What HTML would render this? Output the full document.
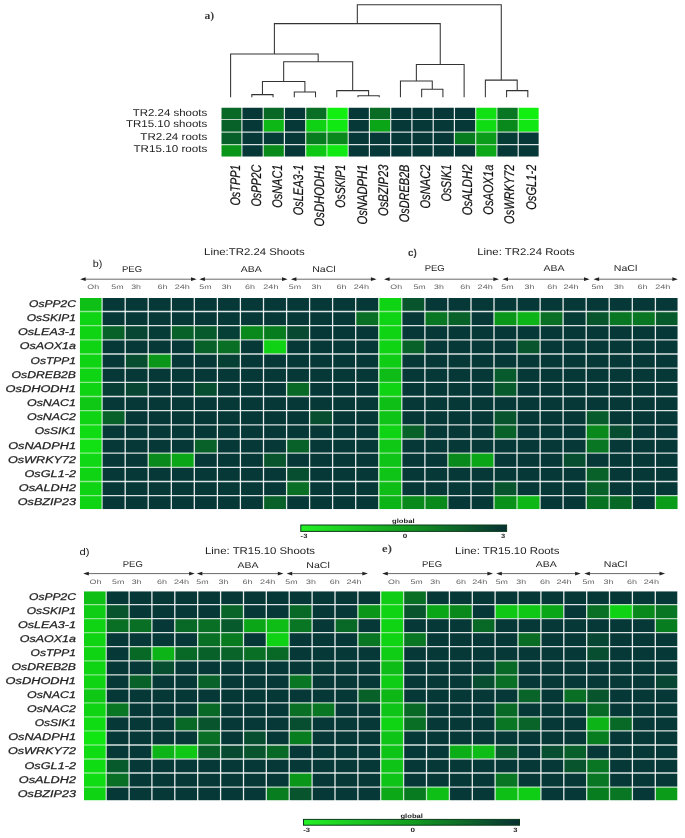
<!DOCTYPE html>
<html>
<head>
<meta charset="utf-8">
<title>Figure</title>
<style>
html,body{margin:0;padding:0;background:#fff;}
body{width:685px;height:838px;overflow:hidden;font-family:"Liberation Sans", sans-serif;}
svg{display:block;font-family:"Liberation Sans", sans-serif;filter:blur(0.45px);}
svg text{font-family:"Liberation Sans", sans-serif;}
</style>
</head>
<body>
<svg width="685" height="838" viewBox="0 0 685 838" shape-rendering="geometricPrecision" text-rendering="geometricPrecision">
<rect x="0" y="0" width="685" height="838" fill="#fff"/>
<rect x="220.50" y="106.70" width="21.65" height="13.00" fill="#086826"/>
<rect x="241.75" y="106.70" width="21.65" height="13.00" fill="#063837"/>
<rect x="262.99" y="106.70" width="21.65" height="13.00" fill="#086826"/>
<rect x="284.24" y="106.70" width="21.65" height="13.00" fill="#063837"/>
<rect x="305.49" y="106.70" width="21.65" height="13.00" fill="#086f24"/>
<rect x="326.74" y="106.70" width="21.65" height="13.00" fill="#12f012"/>
<rect x="347.98" y="106.70" width="21.65" height="13.00" fill="#063837"/>
<rect x="369.23" y="106.70" width="21.65" height="13.00" fill="#086c25"/>
<rect x="390.48" y="106.70" width="21.65" height="13.00" fill="#063837"/>
<rect x="411.72" y="106.70" width="21.65" height="13.00" fill="#063837"/>
<rect x="432.97" y="106.70" width="21.65" height="13.00" fill="#063837"/>
<rect x="454.22" y="106.70" width="21.65" height="13.00" fill="#063837"/>
<rect x="475.46" y="106.70" width="21.65" height="13.00" fill="#11e013"/>
<rect x="496.71" y="106.70" width="21.65" height="13.00" fill="#087622"/>
<rect x="517.96" y="106.70" width="21.65" height="13.00" fill="#12f012"/>
<rect x="220.50" y="119.30" width="21.65" height="13.00" fill="#076129"/>
<rect x="241.75" y="119.30" width="21.65" height="13.00" fill="#063837"/>
<rect x="262.99" y="119.30" width="21.65" height="13.00" fill="#0db816"/>
<rect x="284.24" y="119.30" width="21.65" height="13.00" fill="#063837"/>
<rect x="305.49" y="119.30" width="21.65" height="13.00" fill="#0fd214"/>
<rect x="326.74" y="119.30" width="21.65" height="13.00" fill="#11ea12"/>
<rect x="347.98" y="119.30" width="21.65" height="13.00" fill="#063837"/>
<rect x="369.23" y="119.30" width="21.65" height="13.00" fill="#0ba618"/>
<rect x="390.48" y="119.30" width="21.65" height="13.00" fill="#063837"/>
<rect x="411.72" y="119.30" width="21.65" height="13.00" fill="#063837"/>
<rect x="432.97" y="119.30" width="21.65" height="13.00" fill="#063837"/>
<rect x="454.22" y="119.30" width="21.65" height="13.00" fill="#063837"/>
<rect x="475.46" y="119.30" width="21.65" height="13.00" fill="#10dc14"/>
<rect x="496.71" y="119.30" width="21.65" height="13.00" fill="#09891b"/>
<rect x="517.96" y="119.30" width="21.65" height="13.00" fill="#11e813"/>
<rect x="220.50" y="131.90" width="21.65" height="13.00" fill="#075f2a"/>
<rect x="241.75" y="131.90" width="21.65" height="13.00" fill="#063837"/>
<rect x="262.99" y="131.90" width="21.65" height="13.00" fill="#063c36"/>
<rect x="284.24" y="131.90" width="21.65" height="13.00" fill="#063837"/>
<rect x="305.49" y="131.90" width="21.65" height="13.00" fill="#087d1f"/>
<rect x="326.74" y="131.90" width="21.65" height="13.00" fill="#09891b"/>
<rect x="347.98" y="131.90" width="21.65" height="13.00" fill="#063837"/>
<rect x="369.23" y="131.90" width="21.65" height="13.00" fill="#063837"/>
<rect x="390.48" y="131.90" width="21.65" height="13.00" fill="#063837"/>
<rect x="411.72" y="131.90" width="21.65" height="13.00" fill="#063837"/>
<rect x="432.97" y="131.90" width="21.65" height="13.00" fill="#063837"/>
<rect x="454.22" y="131.90" width="21.65" height="13.00" fill="#087d1f"/>
<rect x="475.46" y="131.90" width="21.65" height="13.00" fill="#0b9d19"/>
<rect x="496.71" y="131.90" width="21.65" height="13.00" fill="#063c36"/>
<rect x="517.96" y="131.90" width="21.65" height="13.00" fill="#063837"/>
<rect x="220.50" y="144.50" width="21.65" height="13.00" fill="#0a9719"/>
<rect x="241.75" y="144.50" width="21.65" height="13.00" fill="#063837"/>
<rect x="262.99" y="144.50" width="21.65" height="13.00" fill="#098b1a"/>
<rect x="284.24" y="144.50" width="21.65" height="13.00" fill="#063837"/>
<rect x="305.49" y="144.50" width="21.65" height="13.00" fill="#0ec815"/>
<rect x="326.74" y="144.50" width="21.65" height="13.00" fill="#11ea12"/>
<rect x="347.98" y="144.50" width="21.65" height="13.00" fill="#063837"/>
<rect x="369.23" y="144.50" width="21.65" height="13.00" fill="#063837"/>
<rect x="390.48" y="144.50" width="21.65" height="13.00" fill="#063837"/>
<rect x="411.72" y="144.50" width="21.65" height="13.00" fill="#063837"/>
<rect x="432.97" y="144.50" width="21.65" height="13.00" fill="#063837"/>
<rect x="454.22" y="144.50" width="21.65" height="13.00" fill="#063837"/>
<rect x="475.46" y="144.50" width="21.65" height="13.00" fill="#0ca818"/>
<rect x="496.71" y="144.50" width="21.65" height="13.00" fill="#063837"/>
<rect x="517.96" y="144.50" width="21.65" height="13.00" fill="#063837"/>
<path d="M220.7 106.9L241.9 106.9M241.9 106.9L263.2 106.9M263.2 106.9L284.4 106.9M284.4 106.9L305.7 106.9M305.7 106.9L326.9 106.9M326.9 106.9L348.2 106.9M348.2 106.9L369.4 106.9M369.4 106.9L390.7 106.9M390.7 106.9L411.9 106.9M411.9 106.9L433.2 106.9M433.2 106.9L454.4 106.9M454.4 106.9L475.7 106.9M475.7 106.9L496.9 106.9M496.9 106.9L518.2 106.9M518.2 106.9L539.4 106.9M220.7 157.3L241.9 157.3M241.9 157.3L263.2 157.3M263.2 157.3L284.4 157.3M284.4 157.3L305.7 157.3M305.7 157.3L326.9 157.3M326.9 157.3L348.2 157.3M348.2 157.3L369.4 157.3M369.4 157.3L390.7 157.3M390.7 157.3L411.9 157.3M411.9 157.3L433.2 157.3M433.2 157.3L454.4 157.3M454.4 157.3L475.7 157.3M475.7 157.3L496.9 157.3M496.9 157.3L518.2 157.3M518.2 157.3L539.4 157.3M220.7 106.9L220.7 119.5M220.7 119.5L220.7 132.1M220.7 132.1L220.7 144.7M220.7 144.7L220.7 157.3M539.4 106.9L539.4 119.5M539.4 119.5L539.4 132.1M539.4 132.1L539.4 144.7M539.4 144.7L539.4 157.3" stroke="#fff" stroke-opacity="1.00" stroke-width="1.20" fill="none"/>
<path d="M220.7 119.5L241.9 119.5M263.2 132.1L284.4 132.1M369.4 132.1L390.7 132.1M220.7 144.7L241.9 144.7M326.9 106.9L326.9 119.5M496.9 106.9L496.9 119.5M496.9 119.5L496.9 132.1M518.2 106.9L518.2 119.5" stroke="#fff" stroke-opacity="0.70" stroke-width="1.20" fill="none"/>
<path d="M241.9 119.5L263.2 119.5M284.4 119.5L305.7 119.5M348.2 119.5L369.4 119.5M390.7 119.5L411.9 119.5M411.9 119.5L433.2 119.5M433.2 119.5L454.4 119.5M454.4 119.5L475.7 119.5M241.9 132.1L263.2 132.1M284.4 132.1L305.7 132.1M348.2 132.1L369.4 132.1M390.7 132.1L411.9 132.1M411.9 132.1L433.2 132.1M433.2 132.1L454.4 132.1M241.9 144.7L263.2 144.7M284.4 144.7L305.7 144.7M348.2 144.7L369.4 144.7M369.4 144.7L390.7 144.7M390.7 144.7L411.9 144.7M411.9 144.7L433.2 144.7M433.2 144.7L454.4 144.7M496.9 144.7L518.2 144.7M518.2 144.7L539.4 144.7M241.9 106.9L241.9 119.5M241.9 119.5L241.9 132.1M241.9 132.1L241.9 144.7M263.2 106.9L263.2 119.5M284.4 106.9L284.4 119.5M305.7 106.9L305.7 119.5M369.4 106.9L369.4 119.5M390.7 106.9L390.7 119.5" stroke="#fff" stroke-opacity="0.85" stroke-width="1.20" fill="none"/>
<path d="M263.2 119.5L284.4 119.5M369.4 119.5L390.7 119.5M496.9 119.5L518.2 119.5M518.2 132.1L539.4 132.1M326.9 119.5L326.9 132.1M326.9 144.7L326.9 157.3M518.2 119.5L518.2 132.1" stroke="#fff" stroke-opacity="0.65" stroke-width="1.20" fill="none"/>
<path d="M305.7 119.5L326.9 119.5M305.7 132.1L326.9 132.1M305.7 144.7L326.9 144.7M475.7 144.7L496.9 144.7" stroke="#fff" stroke-opacity="0.60" stroke-width="1.20" fill="none"/>
<path d="M326.9 119.5L348.2 119.5M518.2 119.5L539.4 119.5" stroke="#fff" stroke-opacity="0.45" stroke-width="1.20" fill="none"/>
<path d="M475.7 119.5L496.9 119.5" stroke="#fff" stroke-opacity="0.50" stroke-width="1.20" fill="none"/>
<path d="M220.7 132.1L241.9 132.1M454.4 132.1L475.7 132.1M496.9 132.1L518.2 132.1M263.2 144.7L284.4 144.7M454.4 144.7L475.7 144.7M305.7 119.5L305.7 132.1M326.9 132.1L326.9 144.7M348.2 106.9L348.2 119.5M348.2 119.5L348.2 132.1M348.2 144.7L348.2 157.3M475.7 106.9L475.7 119.5M475.7 119.5L475.7 132.1M475.7 132.1L475.7 144.7" stroke="#fff" stroke-opacity="0.75" stroke-width="1.20" fill="none"/>
<path d="M326.9 132.1L348.2 132.1M475.7 132.1L496.9 132.1M326.9 144.7L348.2 144.7" stroke="#fff" stroke-opacity="0.55" stroke-width="1.20" fill="none"/>
<path d="M241.9 144.7L241.9 157.3M263.2 119.5L263.2 132.1M263.2 144.7L263.2 157.3M284.4 119.5L284.4 132.1M284.4 144.7L284.4 157.3M305.7 132.1L305.7 144.7M305.7 144.7L305.7 157.3M348.2 132.1L348.2 144.7M369.4 119.5L369.4 132.1M390.7 119.5L390.7 132.1M454.4 132.1L454.4 144.7M475.7 144.7L475.7 157.3M496.9 132.1L496.9 144.7M496.9 144.7L496.9 157.3" stroke="#fff" stroke-opacity="0.80" stroke-width="1.20" fill="none"/>
<path d="M263.2 132.1L263.2 144.7M284.4 132.1L284.4 144.7M369.4 132.1L369.4 144.7M369.4 144.7L369.4 157.3M390.7 132.1L390.7 144.7M390.7 144.7L390.7 157.3M411.9 106.9L411.9 119.5M411.9 119.5L411.9 132.1M411.9 132.1L411.9 144.7M411.9 144.7L411.9 157.3M433.2 106.9L433.2 119.5M433.2 119.5L433.2 132.1M433.2 132.1L433.2 144.7M433.2 144.7L433.2 157.3M454.4 106.9L454.4 119.5M454.4 119.5L454.4 132.1M454.4 144.7L454.4 157.3M518.2 132.1L518.2 144.7M518.2 144.7L518.2 157.3" stroke="#fff" stroke-opacity="0.90" stroke-width="1.20" fill="none"/>
<rect x="220.40" y="106.60" width="319.31" height="51.00" fill="none" stroke="#fff" stroke-width="1.80"/>
<path d="M251.83 94.60L251.83 96.60M273.06 94.60L273.06 96.60M251.83 94.60L273.06 94.60M294.29 92.00L294.29 96.60M315.52 92.00L315.52 96.60M294.29 92.00L315.52 92.00M262.44 81.50L262.44 94.60M304.90 81.50L304.90 92.00M262.44 81.50L304.90 81.50M357.98 95.70L357.98 96.60M379.21 95.70L379.21 96.60M357.98 95.70L379.21 95.70M336.75 90.60L336.75 96.60M368.60 90.60L368.60 95.70M336.75 90.60L368.60 90.60M283.67 61.70L283.67 81.50M352.67 61.70L352.67 90.60M283.67 61.70L352.67 61.70M230.60 53.90L230.60 96.60M318.17 53.90L318.17 61.70M230.60 53.90L318.17 53.90M421.67 89.30L421.67 96.60M442.90 89.30L442.90 96.60M421.67 89.30L442.90 89.30M400.44 80.90L400.44 96.60M432.28 80.90L432.28 89.30M400.44 80.90L432.28 80.90M416.36 64.40L416.36 80.90M464.13 64.40L464.13 96.60M416.36 64.40L464.13 64.40M274.39 23.60L274.39 53.90M440.25 23.60L440.25 64.40M274.39 23.60L440.25 23.60M506.59 90.60L506.59 96.60M527.82 90.60L527.82 96.60M506.59 90.60L527.82 90.60M485.36 80.10L485.36 96.60M517.21 80.10L517.21 90.60M485.36 80.10L517.21 80.10M357.32 4.70L357.32 23.60M501.28 4.70L501.28 80.10M357.32 4.70L501.28 4.70" stroke="#333" stroke-width="1.05" fill="none" stroke-linecap="square"/>
<text x="204.40" y="19.00" font-size="10.80" text-anchor="start" fill="#3a3a3a" font-weight="bold" font-style="normal" textLength="9.70" lengthAdjust="spacingAndGlyphs" style="font-family:&quot;Liberation Serif&quot;,serif">a)</text>
<text x="207.30" y="115.60" font-size="10.00" text-anchor="end" fill="#222" font-weight="normal" font-style="normal" textLength="74.60" lengthAdjust="spacingAndGlyphs">TR2.24 shoots</text>
<text x="207.30" y="127.40" font-size="10.00" text-anchor="end" fill="#222" font-weight="normal" font-style="normal" textLength="81.40" lengthAdjust="spacingAndGlyphs">TR15.10 shoots</text>
<text x="207.30" y="139.80" font-size="10.00" text-anchor="end" fill="#222" font-weight="normal" font-style="normal" textLength="67.00" lengthAdjust="spacingAndGlyphs">TR2.24 roots</text>
<text x="207.30" y="151.80" font-size="10.00" text-anchor="end" fill="#222" font-weight="normal" font-style="normal" textLength="73.80" lengthAdjust="spacingAndGlyphs">TR15.10 roots</text>
<text transform="translate(239.80,164.60) rotate(-90)" x="0" y="0" font-size="14" text-anchor="end" fill="#111" stroke="#111" stroke-width="0.2" font-style="italic" textLength="41.00" lengthAdjust="spacingAndGlyphs">OsTPP1</text>
<text transform="translate(260.93,164.60) rotate(-90)" x="0" y="0" font-size="14" text-anchor="end" fill="#111" stroke="#111" stroke-width="0.2" font-style="italic" textLength="42.00" lengthAdjust="spacingAndGlyphs">OsPP2C</text>
<text transform="translate(282.06,164.60) rotate(-90)" x="0" y="0" font-size="14" text-anchor="end" fill="#111" stroke="#111" stroke-width="0.2" font-style="italic" textLength="43.20" lengthAdjust="spacingAndGlyphs">OsNAC1</text>
<text transform="translate(303.19,164.60) rotate(-90)" x="0" y="0" font-size="14" text-anchor="end" fill="#111" stroke="#111" stroke-width="0.2" font-style="italic" textLength="50.70" lengthAdjust="spacingAndGlyphs">OsLEA3-1</text>
<text transform="translate(324.32,164.60) rotate(-90)" x="0" y="0" font-size="14" text-anchor="end" fill="#111" stroke="#111" stroke-width="0.2" font-style="italic" textLength="61.80" lengthAdjust="spacingAndGlyphs">OsDHODH1</text>
<text transform="translate(345.45,164.60) rotate(-90)" x="0" y="0" font-size="14" text-anchor="end" fill="#111" stroke="#111" stroke-width="0.2" font-style="italic" textLength="43.20" lengthAdjust="spacingAndGlyphs">OsSKIP1</text>
<text transform="translate(366.58,164.60) rotate(-90)" x="0" y="0" font-size="14" text-anchor="end" fill="#111" stroke="#111" stroke-width="0.2" font-style="italic" textLength="60.00" lengthAdjust="spacingAndGlyphs">OsNADPH1</text>
<text transform="translate(387.71,164.60) rotate(-90)" x="0" y="0" font-size="14" text-anchor="end" fill="#111" stroke="#111" stroke-width="0.2" font-style="italic" textLength="51.40" lengthAdjust="spacingAndGlyphs">OsBZIP23</text>
<text transform="translate(408.84,164.60) rotate(-90)" x="0" y="0" font-size="14" text-anchor="end" fill="#111" stroke="#111" stroke-width="0.2" font-style="italic" textLength="57.60" lengthAdjust="spacingAndGlyphs">OsDREB2B</text>
<text transform="translate(429.97,164.60) rotate(-90)" x="0" y="0" font-size="14" text-anchor="end" fill="#111" stroke="#111" stroke-width="0.2" font-style="italic" textLength="44.00" lengthAdjust="spacingAndGlyphs">OsNAC2</text>
<text transform="translate(451.10,164.60) rotate(-90)" x="0" y="0" font-size="14" text-anchor="end" fill="#111" stroke="#111" stroke-width="0.2" font-style="italic" textLength="37.00" lengthAdjust="spacingAndGlyphs">OsSIK1</text>
<text transform="translate(472.23,164.60) rotate(-90)" x="0" y="0" font-size="14" text-anchor="end" fill="#111" stroke="#111" stroke-width="0.2" font-style="italic" textLength="50.70" lengthAdjust="spacingAndGlyphs">OsALDH2</text>
<text transform="translate(493.36,164.60) rotate(-90)" x="0" y="0" font-size="14" text-anchor="end" fill="#111" stroke="#111" stroke-width="0.2" font-style="italic" textLength="50.10" lengthAdjust="spacingAndGlyphs">OsAOX1a</text>
<text transform="translate(514.49,164.60) rotate(-90)" x="0" y="0" font-size="14" text-anchor="end" fill="#111" stroke="#111" stroke-width="0.2" font-style="italic" textLength="59.30" lengthAdjust="spacingAndGlyphs">OsWRKY72</text>
<text transform="translate(535.62,164.60) rotate(-90)" x="0" y="0" font-size="14" text-anchor="end" fill="#111" stroke="#111" stroke-width="0.2" font-style="italic" textLength="45.20" lengthAdjust="spacingAndGlyphs">OsGL1-2</text>
<rect x="78.90" y="297.10" width="23.45" height="14.57" fill="#0ec016"/>
<rect x="101.95" y="297.10" width="23.45" height="14.57" fill="#063837"/>
<rect x="125.00" y="297.10" width="23.45" height="14.57" fill="#063837"/>
<rect x="148.05" y="297.10" width="23.45" height="14.57" fill="#063837"/>
<rect x="171.10" y="297.10" width="23.45" height="14.57" fill="#063837"/>
<rect x="194.15" y="297.10" width="23.45" height="14.57" fill="#063837"/>
<rect x="217.20" y="297.10" width="23.45" height="14.57" fill="#063837"/>
<rect x="240.25" y="297.10" width="23.45" height="14.57" fill="#063837"/>
<rect x="263.30" y="297.10" width="23.45" height="14.57" fill="#063837"/>
<rect x="286.35" y="297.10" width="23.45" height="14.57" fill="#063837"/>
<rect x="309.40" y="297.10" width="23.45" height="14.57" fill="#063837"/>
<rect x="332.45" y="297.10" width="23.45" height="14.57" fill="#063837"/>
<rect x="355.50" y="297.10" width="23.45" height="14.57" fill="#063837"/>
<rect x="378.55" y="297.10" width="23.45" height="14.57" fill="#0fd414"/>
<rect x="401.60" y="297.10" width="23.45" height="14.57" fill="#07542d"/>
<rect x="424.65" y="297.10" width="23.45" height="14.57" fill="#063837"/>
<rect x="447.70" y="297.10" width="23.45" height="14.57" fill="#063837"/>
<rect x="470.75" y="297.10" width="23.45" height="14.57" fill="#063837"/>
<rect x="493.80" y="297.10" width="23.45" height="14.57" fill="#063837"/>
<rect x="516.85" y="297.10" width="23.45" height="14.57" fill="#063837"/>
<rect x="539.90" y="297.10" width="23.45" height="14.57" fill="#063837"/>
<rect x="562.95" y="297.10" width="23.45" height="14.57" fill="#063837"/>
<rect x="586.00" y="297.10" width="23.45" height="14.57" fill="#063837"/>
<rect x="609.05" y="297.10" width="23.45" height="14.57" fill="#063837"/>
<rect x="632.10" y="297.10" width="23.45" height="14.57" fill="#063837"/>
<rect x="655.15" y="297.10" width="23.45" height="14.57" fill="#063837"/>
<rect x="78.90" y="311.27" width="23.45" height="14.57" fill="#0fd414"/>
<rect x="101.95" y="311.27" width="23.45" height="14.57" fill="#063837"/>
<rect x="125.00" y="311.27" width="23.45" height="14.57" fill="#063837"/>
<rect x="148.05" y="311.27" width="23.45" height="14.57" fill="#063837"/>
<rect x="171.10" y="311.27" width="23.45" height="14.57" fill="#063837"/>
<rect x="194.15" y="311.27" width="23.45" height="14.57" fill="#063837"/>
<rect x="217.20" y="311.27" width="23.45" height="14.57" fill="#063837"/>
<rect x="240.25" y="311.27" width="23.45" height="14.57" fill="#063837"/>
<rect x="263.30" y="311.27" width="23.45" height="14.57" fill="#063837"/>
<rect x="286.35" y="311.27" width="23.45" height="14.57" fill="#063837"/>
<rect x="309.40" y="311.27" width="23.45" height="14.57" fill="#063837"/>
<rect x="332.45" y="311.27" width="23.45" height="14.57" fill="#063837"/>
<rect x="355.50" y="311.27" width="23.45" height="14.57" fill="#086f24"/>
<rect x="378.55" y="311.27" width="23.45" height="14.57" fill="#0fd414"/>
<rect x="401.60" y="311.27" width="23.45" height="14.57" fill="#063837"/>
<rect x="424.65" y="311.27" width="23.45" height="14.57" fill="#087622"/>
<rect x="447.70" y="311.27" width="23.45" height="14.57" fill="#076129"/>
<rect x="470.75" y="311.27" width="23.45" height="14.57" fill="#063837"/>
<rect x="493.80" y="311.27" width="23.45" height="14.57" fill="#0a9719"/>
<rect x="516.85" y="311.27" width="23.45" height="14.57" fill="#0db417"/>
<rect x="539.90" y="311.27" width="23.45" height="14.57" fill="#086f24"/>
<rect x="562.95" y="311.27" width="23.45" height="14.57" fill="#063c36"/>
<rect x="586.00" y="311.27" width="23.45" height="14.57" fill="#07542d"/>
<rect x="609.05" y="311.27" width="23.45" height="14.57" fill="#087622"/>
<rect x="632.10" y="311.27" width="23.45" height="14.57" fill="#087622"/>
<rect x="655.15" y="311.27" width="23.45" height="14.57" fill="#075a2b"/>
<rect x="78.90" y="325.44" width="23.45" height="14.57" fill="#0fd414"/>
<rect x="101.95" y="325.44" width="23.45" height="14.57" fill="#076129"/>
<rect x="125.00" y="325.44" width="23.45" height="14.57" fill="#064632"/>
<rect x="148.05" y="325.44" width="23.45" height="14.57" fill="#063c36"/>
<rect x="171.10" y="325.44" width="23.45" height="14.57" fill="#076129"/>
<rect x="194.15" y="325.44" width="23.45" height="14.57" fill="#075a2b"/>
<rect x="217.20" y="325.44" width="23.45" height="14.57" fill="#063f35"/>
<rect x="240.25" y="325.44" width="23.45" height="14.57" fill="#09891b"/>
<rect x="263.30" y="325.44" width="23.45" height="14.57" fill="#087d1f"/>
<rect x="286.35" y="325.44" width="23.45" height="14.57" fill="#074931"/>
<rect x="309.40" y="325.44" width="23.45" height="14.57" fill="#063837"/>
<rect x="332.45" y="325.44" width="23.45" height="14.57" fill="#063837"/>
<rect x="355.50" y="325.44" width="23.45" height="14.57" fill="#063837"/>
<rect x="378.55" y="325.44" width="23.45" height="14.57" fill="#0fd414"/>
<rect x="401.60" y="325.44" width="23.45" height="14.57" fill="#063837"/>
<rect x="424.65" y="325.44" width="23.45" height="14.57" fill="#063837"/>
<rect x="447.70" y="325.44" width="23.45" height="14.57" fill="#063837"/>
<rect x="470.75" y="325.44" width="23.45" height="14.57" fill="#063837"/>
<rect x="493.80" y="325.44" width="23.45" height="14.57" fill="#063837"/>
<rect x="516.85" y="325.44" width="23.45" height="14.57" fill="#063837"/>
<rect x="539.90" y="325.44" width="23.45" height="14.57" fill="#063837"/>
<rect x="562.95" y="325.44" width="23.45" height="14.57" fill="#063837"/>
<rect x="586.00" y="325.44" width="23.45" height="14.57" fill="#063837"/>
<rect x="609.05" y="325.44" width="23.45" height="14.57" fill="#063837"/>
<rect x="632.10" y="325.44" width="23.45" height="14.57" fill="#063837"/>
<rect x="655.15" y="325.44" width="23.45" height="14.57" fill="#063837"/>
<rect x="78.90" y="339.61" width="23.45" height="14.57" fill="#0fd414"/>
<rect x="101.95" y="339.61" width="23.45" height="14.57" fill="#063837"/>
<rect x="125.00" y="339.61" width="23.45" height="14.57" fill="#063837"/>
<rect x="148.05" y="339.61" width="23.45" height="14.57" fill="#063837"/>
<rect x="171.10" y="339.61" width="23.45" height="14.57" fill="#063837"/>
<rect x="194.15" y="339.61" width="23.45" height="14.57" fill="#076129"/>
<rect x="217.20" y="339.61" width="23.45" height="14.57" fill="#086f24"/>
<rect x="240.25" y="339.61" width="23.45" height="14.57" fill="#063837"/>
<rect x="263.30" y="339.61" width="23.45" height="14.57" fill="#0fd214"/>
<rect x="286.35" y="339.61" width="23.45" height="14.57" fill="#063837"/>
<rect x="309.40" y="339.61" width="23.45" height="14.57" fill="#063837"/>
<rect x="332.45" y="339.61" width="23.45" height="14.57" fill="#063837"/>
<rect x="355.50" y="339.61" width="23.45" height="14.57" fill="#063837"/>
<rect x="378.55" y="339.61" width="23.45" height="14.57" fill="#0fd414"/>
<rect x="401.60" y="339.61" width="23.45" height="14.57" fill="#076129"/>
<rect x="424.65" y="339.61" width="23.45" height="14.57" fill="#063837"/>
<rect x="447.70" y="339.61" width="23.45" height="14.57" fill="#063837"/>
<rect x="470.75" y="339.61" width="23.45" height="14.57" fill="#063837"/>
<rect x="493.80" y="339.61" width="23.45" height="14.57" fill="#063837"/>
<rect x="516.85" y="339.61" width="23.45" height="14.57" fill="#07542d"/>
<rect x="539.90" y="339.61" width="23.45" height="14.57" fill="#063837"/>
<rect x="562.95" y="339.61" width="23.45" height="14.57" fill="#063837"/>
<rect x="586.00" y="339.61" width="23.45" height="14.57" fill="#063837"/>
<rect x="609.05" y="339.61" width="23.45" height="14.57" fill="#063837"/>
<rect x="632.10" y="339.61" width="23.45" height="14.57" fill="#063837"/>
<rect x="655.15" y="339.61" width="23.45" height="14.57" fill="#063837"/>
<rect x="78.90" y="353.78" width="23.45" height="14.57" fill="#0fd414"/>
<rect x="101.95" y="353.78" width="23.45" height="14.57" fill="#063837"/>
<rect x="125.00" y="353.78" width="23.45" height="14.57" fill="#074d30"/>
<rect x="148.05" y="353.78" width="23.45" height="14.57" fill="#0a9719"/>
<rect x="171.10" y="353.78" width="23.45" height="14.57" fill="#063837"/>
<rect x="194.15" y="353.78" width="23.45" height="14.57" fill="#063837"/>
<rect x="217.20" y="353.78" width="23.45" height="14.57" fill="#064034"/>
<rect x="240.25" y="353.78" width="23.45" height="14.57" fill="#063837"/>
<rect x="263.30" y="353.78" width="23.45" height="14.57" fill="#063837"/>
<rect x="286.35" y="353.78" width="23.45" height="14.57" fill="#063837"/>
<rect x="309.40" y="353.78" width="23.45" height="14.57" fill="#063837"/>
<rect x="332.45" y="353.78" width="23.45" height="14.57" fill="#063837"/>
<rect x="355.50" y="353.78" width="23.45" height="14.57" fill="#063837"/>
<rect x="378.55" y="353.78" width="23.45" height="14.57" fill="#0fcc15"/>
<rect x="401.60" y="353.78" width="23.45" height="14.57" fill="#063837"/>
<rect x="424.65" y="353.78" width="23.45" height="14.57" fill="#063837"/>
<rect x="447.70" y="353.78" width="23.45" height="14.57" fill="#063837"/>
<rect x="470.75" y="353.78" width="23.45" height="14.57" fill="#063837"/>
<rect x="493.80" y="353.78" width="23.45" height="14.57" fill="#063837"/>
<rect x="516.85" y="353.78" width="23.45" height="14.57" fill="#063837"/>
<rect x="539.90" y="353.78" width="23.45" height="14.57" fill="#063837"/>
<rect x="562.95" y="353.78" width="23.45" height="14.57" fill="#063837"/>
<rect x="586.00" y="353.78" width="23.45" height="14.57" fill="#063837"/>
<rect x="609.05" y="353.78" width="23.45" height="14.57" fill="#063837"/>
<rect x="632.10" y="353.78" width="23.45" height="14.57" fill="#063837"/>
<rect x="655.15" y="353.78" width="23.45" height="14.57" fill="#063837"/>
<rect x="78.90" y="367.95" width="23.45" height="14.57" fill="#0fd414"/>
<rect x="101.95" y="367.95" width="23.45" height="14.57" fill="#063837"/>
<rect x="125.00" y="367.95" width="23.45" height="14.57" fill="#063837"/>
<rect x="148.05" y="367.95" width="23.45" height="14.57" fill="#063837"/>
<rect x="171.10" y="367.95" width="23.45" height="14.57" fill="#063837"/>
<rect x="194.15" y="367.95" width="23.45" height="14.57" fill="#063837"/>
<rect x="217.20" y="367.95" width="23.45" height="14.57" fill="#063837"/>
<rect x="240.25" y="367.95" width="23.45" height="14.57" fill="#063837"/>
<rect x="263.30" y="367.95" width="23.45" height="14.57" fill="#063837"/>
<rect x="286.35" y="367.95" width="23.45" height="14.57" fill="#063837"/>
<rect x="309.40" y="367.95" width="23.45" height="14.57" fill="#063837"/>
<rect x="332.45" y="367.95" width="23.45" height="14.57" fill="#063837"/>
<rect x="355.50" y="367.95" width="23.45" height="14.57" fill="#063837"/>
<rect x="378.55" y="367.95" width="23.45" height="14.57" fill="#0dbc16"/>
<rect x="401.60" y="367.95" width="23.45" height="14.57" fill="#063837"/>
<rect x="424.65" y="367.95" width="23.45" height="14.57" fill="#063837"/>
<rect x="447.70" y="367.95" width="23.45" height="14.57" fill="#063837"/>
<rect x="470.75" y="367.95" width="23.45" height="14.57" fill="#063837"/>
<rect x="493.80" y="367.95" width="23.45" height="14.57" fill="#075a2b"/>
<rect x="516.85" y="367.95" width="23.45" height="14.57" fill="#063837"/>
<rect x="539.90" y="367.95" width="23.45" height="14.57" fill="#063837"/>
<rect x="562.95" y="367.95" width="23.45" height="14.57" fill="#063837"/>
<rect x="586.00" y="367.95" width="23.45" height="14.57" fill="#063837"/>
<rect x="609.05" y="367.95" width="23.45" height="14.57" fill="#063837"/>
<rect x="632.10" y="367.95" width="23.45" height="14.57" fill="#063837"/>
<rect x="655.15" y="367.95" width="23.45" height="14.57" fill="#063837"/>
<rect x="78.90" y="382.12" width="23.45" height="14.57" fill="#0fd414"/>
<rect x="101.95" y="382.12" width="23.45" height="14.57" fill="#063e35"/>
<rect x="125.00" y="382.12" width="23.45" height="14.57" fill="#064632"/>
<rect x="148.05" y="382.12" width="23.45" height="14.57" fill="#063837"/>
<rect x="171.10" y="382.12" width="23.45" height="14.57" fill="#063837"/>
<rect x="194.15" y="382.12" width="23.45" height="14.57" fill="#074d30"/>
<rect x="217.20" y="382.12" width="23.45" height="14.57" fill="#063837"/>
<rect x="240.25" y="382.12" width="23.45" height="14.57" fill="#063837"/>
<rect x="263.30" y="382.12" width="23.45" height="14.57" fill="#063837"/>
<rect x="286.35" y="382.12" width="23.45" height="14.57" fill="#086826"/>
<rect x="309.40" y="382.12" width="23.45" height="14.57" fill="#063837"/>
<rect x="332.45" y="382.12" width="23.45" height="14.57" fill="#063837"/>
<rect x="355.50" y="382.12" width="23.45" height="14.57" fill="#063837"/>
<rect x="378.55" y="382.12" width="23.45" height="14.57" fill="#0fd414"/>
<rect x="401.60" y="382.12" width="23.45" height="14.57" fill="#063837"/>
<rect x="424.65" y="382.12" width="23.45" height="14.57" fill="#063837"/>
<rect x="447.70" y="382.12" width="23.45" height="14.57" fill="#063837"/>
<rect x="470.75" y="382.12" width="23.45" height="14.57" fill="#063837"/>
<rect x="493.80" y="382.12" width="23.45" height="14.57" fill="#075a2b"/>
<rect x="516.85" y="382.12" width="23.45" height="14.57" fill="#063837"/>
<rect x="539.90" y="382.12" width="23.45" height="14.57" fill="#063837"/>
<rect x="562.95" y="382.12" width="23.45" height="14.57" fill="#063837"/>
<rect x="586.00" y="382.12" width="23.45" height="14.57" fill="#063837"/>
<rect x="609.05" y="382.12" width="23.45" height="14.57" fill="#063837"/>
<rect x="632.10" y="382.12" width="23.45" height="14.57" fill="#063837"/>
<rect x="655.15" y="382.12" width="23.45" height="14.57" fill="#063837"/>
<rect x="78.90" y="396.29" width="23.45" height="14.57" fill="#0ec815"/>
<rect x="101.95" y="396.29" width="23.45" height="14.57" fill="#063837"/>
<rect x="125.00" y="396.29" width="23.45" height="14.57" fill="#063837"/>
<rect x="148.05" y="396.29" width="23.45" height="14.57" fill="#063837"/>
<rect x="171.10" y="396.29" width="23.45" height="14.57" fill="#063837"/>
<rect x="194.15" y="396.29" width="23.45" height="14.57" fill="#063837"/>
<rect x="217.20" y="396.29" width="23.45" height="14.57" fill="#063837"/>
<rect x="240.25" y="396.29" width="23.45" height="14.57" fill="#063837"/>
<rect x="263.30" y="396.29" width="23.45" height="14.57" fill="#063837"/>
<rect x="286.35" y="396.29" width="23.45" height="14.57" fill="#063837"/>
<rect x="309.40" y="396.29" width="23.45" height="14.57" fill="#063837"/>
<rect x="332.45" y="396.29" width="23.45" height="14.57" fill="#063837"/>
<rect x="355.50" y="396.29" width="23.45" height="14.57" fill="#063837"/>
<rect x="378.55" y="396.29" width="23.45" height="14.57" fill="#0ec016"/>
<rect x="401.60" y="396.29" width="23.45" height="14.57" fill="#063837"/>
<rect x="424.65" y="396.29" width="23.45" height="14.57" fill="#063837"/>
<rect x="447.70" y="396.29" width="23.45" height="14.57" fill="#063837"/>
<rect x="470.75" y="396.29" width="23.45" height="14.57" fill="#063837"/>
<rect x="493.80" y="396.29" width="23.45" height="14.57" fill="#063837"/>
<rect x="516.85" y="396.29" width="23.45" height="14.57" fill="#063837"/>
<rect x="539.90" y="396.29" width="23.45" height="14.57" fill="#063837"/>
<rect x="562.95" y="396.29" width="23.45" height="14.57" fill="#063837"/>
<rect x="586.00" y="396.29" width="23.45" height="14.57" fill="#063837"/>
<rect x="609.05" y="396.29" width="23.45" height="14.57" fill="#063837"/>
<rect x="632.10" y="396.29" width="23.45" height="14.57" fill="#063837"/>
<rect x="655.15" y="396.29" width="23.45" height="14.57" fill="#063837"/>
<rect x="78.90" y="410.46" width="23.45" height="14.57" fill="#0fd414"/>
<rect x="101.95" y="410.46" width="23.45" height="14.57" fill="#076129"/>
<rect x="125.00" y="410.46" width="23.45" height="14.57" fill="#063837"/>
<rect x="148.05" y="410.46" width="23.45" height="14.57" fill="#063837"/>
<rect x="171.10" y="410.46" width="23.45" height="14.57" fill="#063837"/>
<rect x="194.15" y="410.46" width="23.45" height="14.57" fill="#063837"/>
<rect x="217.20" y="410.46" width="23.45" height="14.57" fill="#063837"/>
<rect x="240.25" y="410.46" width="23.45" height="14.57" fill="#063837"/>
<rect x="263.30" y="410.46" width="23.45" height="14.57" fill="#063837"/>
<rect x="286.35" y="410.46" width="23.45" height="14.57" fill="#063837"/>
<rect x="309.40" y="410.46" width="23.45" height="14.57" fill="#074d30"/>
<rect x="332.45" y="410.46" width="23.45" height="14.57" fill="#063837"/>
<rect x="355.50" y="410.46" width="23.45" height="14.57" fill="#063837"/>
<rect x="378.55" y="410.46" width="23.45" height="14.57" fill="#0ec416"/>
<rect x="401.60" y="410.46" width="23.45" height="14.57" fill="#063837"/>
<rect x="424.65" y="410.46" width="23.45" height="14.57" fill="#063837"/>
<rect x="447.70" y="410.46" width="23.45" height="14.57" fill="#063837"/>
<rect x="470.75" y="410.46" width="23.45" height="14.57" fill="#063837"/>
<rect x="493.80" y="410.46" width="23.45" height="14.57" fill="#07542d"/>
<rect x="516.85" y="410.46" width="23.45" height="14.57" fill="#063837"/>
<rect x="539.90" y="410.46" width="23.45" height="14.57" fill="#063837"/>
<rect x="562.95" y="410.46" width="23.45" height="14.57" fill="#063837"/>
<rect x="586.00" y="410.46" width="23.45" height="14.57" fill="#075a2b"/>
<rect x="609.05" y="410.46" width="23.45" height="14.57" fill="#063837"/>
<rect x="632.10" y="410.46" width="23.45" height="14.57" fill="#063837"/>
<rect x="655.15" y="410.46" width="23.45" height="14.57" fill="#063837"/>
<rect x="78.90" y="424.63" width="23.45" height="14.57" fill="#10dc14"/>
<rect x="101.95" y="424.63" width="23.45" height="14.57" fill="#063837"/>
<rect x="125.00" y="424.63" width="23.45" height="14.57" fill="#063837"/>
<rect x="148.05" y="424.63" width="23.45" height="14.57" fill="#063837"/>
<rect x="171.10" y="424.63" width="23.45" height="14.57" fill="#063837"/>
<rect x="194.15" y="424.63" width="23.45" height="14.57" fill="#063837"/>
<rect x="217.20" y="424.63" width="23.45" height="14.57" fill="#063837"/>
<rect x="240.25" y="424.63" width="23.45" height="14.57" fill="#063837"/>
<rect x="263.30" y="424.63" width="23.45" height="14.57" fill="#063837"/>
<rect x="286.35" y="424.63" width="23.45" height="14.57" fill="#063837"/>
<rect x="309.40" y="424.63" width="23.45" height="14.57" fill="#063837"/>
<rect x="332.45" y="424.63" width="23.45" height="14.57" fill="#063837"/>
<rect x="355.50" y="424.63" width="23.45" height="14.57" fill="#063837"/>
<rect x="378.55" y="424.63" width="23.45" height="14.57" fill="#0fd414"/>
<rect x="401.60" y="424.63" width="23.45" height="14.57" fill="#076129"/>
<rect x="424.65" y="424.63" width="23.45" height="14.57" fill="#063837"/>
<rect x="447.70" y="424.63" width="23.45" height="14.57" fill="#063837"/>
<rect x="470.75" y="424.63" width="23.45" height="14.57" fill="#063837"/>
<rect x="493.80" y="424.63" width="23.45" height="14.57" fill="#076129"/>
<rect x="516.85" y="424.63" width="23.45" height="14.57" fill="#063837"/>
<rect x="539.90" y="424.63" width="23.45" height="14.57" fill="#063837"/>
<rect x="562.95" y="424.63" width="23.45" height="14.57" fill="#063837"/>
<rect x="586.00" y="424.63" width="23.45" height="14.57" fill="#09891b"/>
<rect x="609.05" y="424.63" width="23.45" height="14.57" fill="#074d30"/>
<rect x="632.10" y="424.63" width="23.45" height="14.57" fill="#063837"/>
<rect x="655.15" y="424.63" width="23.45" height="14.57" fill="#063837"/>
<rect x="78.90" y="438.80" width="23.45" height="14.57" fill="#11e013"/>
<rect x="101.95" y="438.80" width="23.45" height="14.57" fill="#063837"/>
<rect x="125.00" y="438.80" width="23.45" height="14.57" fill="#063837"/>
<rect x="148.05" y="438.80" width="23.45" height="14.57" fill="#063837"/>
<rect x="171.10" y="438.80" width="23.45" height="14.57" fill="#063837"/>
<rect x="194.15" y="438.80" width="23.45" height="14.57" fill="#076129"/>
<rect x="217.20" y="438.80" width="23.45" height="14.57" fill="#063837"/>
<rect x="240.25" y="438.80" width="23.45" height="14.57" fill="#063837"/>
<rect x="263.30" y="438.80" width="23.45" height="14.57" fill="#063837"/>
<rect x="286.35" y="438.80" width="23.45" height="14.57" fill="#076129"/>
<rect x="309.40" y="438.80" width="23.45" height="14.57" fill="#063837"/>
<rect x="332.45" y="438.80" width="23.45" height="14.57" fill="#063837"/>
<rect x="355.50" y="438.80" width="23.45" height="14.57" fill="#063837"/>
<rect x="378.55" y="438.80" width="23.45" height="14.57" fill="#0ec815"/>
<rect x="401.60" y="438.80" width="23.45" height="14.57" fill="#063837"/>
<rect x="424.65" y="438.80" width="23.45" height="14.57" fill="#063837"/>
<rect x="447.70" y="438.80" width="23.45" height="14.57" fill="#063837"/>
<rect x="470.75" y="438.80" width="23.45" height="14.57" fill="#063837"/>
<rect x="493.80" y="438.80" width="23.45" height="14.57" fill="#063837"/>
<rect x="516.85" y="438.80" width="23.45" height="14.57" fill="#063837"/>
<rect x="539.90" y="438.80" width="23.45" height="14.57" fill="#063837"/>
<rect x="562.95" y="438.80" width="23.45" height="14.57" fill="#063837"/>
<rect x="586.00" y="438.80" width="23.45" height="14.57" fill="#087622"/>
<rect x="609.05" y="438.80" width="23.45" height="14.57" fill="#063837"/>
<rect x="632.10" y="438.80" width="23.45" height="14.57" fill="#063837"/>
<rect x="655.15" y="438.80" width="23.45" height="14.57" fill="#063837"/>
<rect x="78.90" y="452.97" width="23.45" height="14.57" fill="#10d814"/>
<rect x="101.95" y="452.97" width="23.45" height="14.57" fill="#063837"/>
<rect x="125.00" y="452.97" width="23.45" height="14.57" fill="#063837"/>
<rect x="148.05" y="452.97" width="23.45" height="14.57" fill="#09891b"/>
<rect x="171.10" y="452.97" width="23.45" height="14.57" fill="#0ba618"/>
<rect x="194.15" y="452.97" width="23.45" height="14.57" fill="#063837"/>
<rect x="217.20" y="452.97" width="23.45" height="14.57" fill="#063837"/>
<rect x="240.25" y="452.97" width="23.45" height="14.57" fill="#063837"/>
<rect x="263.30" y="452.97" width="23.45" height="14.57" fill="#07542d"/>
<rect x="286.35" y="452.97" width="23.45" height="14.57" fill="#063837"/>
<rect x="309.40" y="452.97" width="23.45" height="14.57" fill="#063837"/>
<rect x="332.45" y="452.97" width="23.45" height="14.57" fill="#063837"/>
<rect x="355.50" y="452.97" width="23.45" height="14.57" fill="#063837"/>
<rect x="378.55" y="452.97" width="23.45" height="14.57" fill="#0ec416"/>
<rect x="401.60" y="452.97" width="23.45" height="14.57" fill="#063837"/>
<rect x="424.65" y="452.97" width="23.45" height="14.57" fill="#063837"/>
<rect x="447.70" y="452.97" width="23.45" height="14.57" fill="#09891b"/>
<rect x="470.75" y="452.97" width="23.45" height="14.57" fill="#0ba618"/>
<rect x="493.80" y="452.97" width="23.45" height="14.57" fill="#063837"/>
<rect x="516.85" y="452.97" width="23.45" height="14.57" fill="#063837"/>
<rect x="539.90" y="452.97" width="23.45" height="14.57" fill="#063837"/>
<rect x="562.95" y="452.97" width="23.45" height="14.57" fill="#074d30"/>
<rect x="586.00" y="452.97" width="23.45" height="14.57" fill="#063837"/>
<rect x="609.05" y="452.97" width="23.45" height="14.57" fill="#063837"/>
<rect x="632.10" y="452.97" width="23.45" height="14.57" fill="#063837"/>
<rect x="655.15" y="452.97" width="23.45" height="14.57" fill="#063837"/>
<rect x="78.90" y="467.14" width="23.45" height="14.57" fill="#0fd414"/>
<rect x="101.95" y="467.14" width="23.45" height="14.57" fill="#063837"/>
<rect x="125.00" y="467.14" width="23.45" height="14.57" fill="#063837"/>
<rect x="148.05" y="467.14" width="23.45" height="14.57" fill="#063837"/>
<rect x="171.10" y="467.14" width="23.45" height="14.57" fill="#063837"/>
<rect x="194.15" y="467.14" width="23.45" height="14.57" fill="#063837"/>
<rect x="217.20" y="467.14" width="23.45" height="14.57" fill="#063837"/>
<rect x="240.25" y="467.14" width="23.45" height="14.57" fill="#063837"/>
<rect x="263.30" y="467.14" width="23.45" height="14.57" fill="#063837"/>
<rect x="286.35" y="467.14" width="23.45" height="14.57" fill="#074d30"/>
<rect x="309.40" y="467.14" width="23.45" height="14.57" fill="#063837"/>
<rect x="332.45" y="467.14" width="23.45" height="14.57" fill="#063837"/>
<rect x="355.50" y="467.14" width="23.45" height="14.57" fill="#063837"/>
<rect x="378.55" y="467.14" width="23.45" height="14.57" fill="#0ec416"/>
<rect x="401.60" y="467.14" width="23.45" height="14.57" fill="#063837"/>
<rect x="424.65" y="467.14" width="23.45" height="14.57" fill="#063837"/>
<rect x="447.70" y="467.14" width="23.45" height="14.57" fill="#063837"/>
<rect x="470.75" y="467.14" width="23.45" height="14.57" fill="#063837"/>
<rect x="493.80" y="467.14" width="23.45" height="14.57" fill="#063837"/>
<rect x="516.85" y="467.14" width="23.45" height="14.57" fill="#063837"/>
<rect x="539.90" y="467.14" width="23.45" height="14.57" fill="#063837"/>
<rect x="562.95" y="467.14" width="23.45" height="14.57" fill="#063837"/>
<rect x="586.00" y="467.14" width="23.45" height="14.57" fill="#076129"/>
<rect x="609.05" y="467.14" width="23.45" height="14.57" fill="#063837"/>
<rect x="632.10" y="467.14" width="23.45" height="14.57" fill="#063837"/>
<rect x="655.15" y="467.14" width="23.45" height="14.57" fill="#063837"/>
<rect x="78.90" y="481.31" width="23.45" height="14.57" fill="#0fd414"/>
<rect x="101.95" y="481.31" width="23.45" height="14.57" fill="#063837"/>
<rect x="125.00" y="481.31" width="23.45" height="14.57" fill="#063837"/>
<rect x="148.05" y="481.31" width="23.45" height="14.57" fill="#063837"/>
<rect x="171.10" y="481.31" width="23.45" height="14.57" fill="#063837"/>
<rect x="194.15" y="481.31" width="23.45" height="14.57" fill="#063837"/>
<rect x="217.20" y="481.31" width="23.45" height="14.57" fill="#063837"/>
<rect x="240.25" y="481.31" width="23.45" height="14.57" fill="#063837"/>
<rect x="263.30" y="481.31" width="23.45" height="14.57" fill="#063837"/>
<rect x="286.35" y="481.31" width="23.45" height="14.57" fill="#086f24"/>
<rect x="309.40" y="481.31" width="23.45" height="14.57" fill="#063837"/>
<rect x="332.45" y="481.31" width="23.45" height="14.57" fill="#063837"/>
<rect x="355.50" y="481.31" width="23.45" height="14.57" fill="#063837"/>
<rect x="378.55" y="481.31" width="23.45" height="14.57" fill="#0ebe16"/>
<rect x="401.60" y="481.31" width="23.45" height="14.57" fill="#063837"/>
<rect x="424.65" y="481.31" width="23.45" height="14.57" fill="#063837"/>
<rect x="447.70" y="481.31" width="23.45" height="14.57" fill="#063837"/>
<rect x="470.75" y="481.31" width="23.45" height="14.57" fill="#063837"/>
<rect x="493.80" y="481.31" width="23.45" height="14.57" fill="#07542d"/>
<rect x="516.85" y="481.31" width="23.45" height="14.57" fill="#063837"/>
<rect x="539.90" y="481.31" width="23.45" height="14.57" fill="#063837"/>
<rect x="562.95" y="481.31" width="23.45" height="14.57" fill="#063837"/>
<rect x="586.00" y="481.31" width="23.45" height="14.57" fill="#076129"/>
<rect x="609.05" y="481.31" width="23.45" height="14.57" fill="#063837"/>
<rect x="632.10" y="481.31" width="23.45" height="14.57" fill="#063837"/>
<rect x="655.15" y="481.31" width="23.45" height="14.57" fill="#063837"/>
<rect x="78.90" y="495.48" width="23.45" height="14.57" fill="#0fd414"/>
<rect x="101.95" y="495.48" width="23.45" height="14.57" fill="#063837"/>
<rect x="125.00" y="495.48" width="23.45" height="14.57" fill="#063837"/>
<rect x="148.05" y="495.48" width="23.45" height="14.57" fill="#063837"/>
<rect x="171.10" y="495.48" width="23.45" height="14.57" fill="#063837"/>
<rect x="194.15" y="495.48" width="23.45" height="14.57" fill="#063837"/>
<rect x="217.20" y="495.48" width="23.45" height="14.57" fill="#063837"/>
<rect x="240.25" y="495.48" width="23.45" height="14.57" fill="#063837"/>
<rect x="263.30" y="495.48" width="23.45" height="14.57" fill="#076129"/>
<rect x="286.35" y="495.48" width="23.45" height="14.57" fill="#063837"/>
<rect x="309.40" y="495.48" width="23.45" height="14.57" fill="#063837"/>
<rect x="332.45" y="495.48" width="23.45" height="14.57" fill="#063837"/>
<rect x="355.50" y="495.48" width="23.45" height="14.57" fill="#063837"/>
<rect x="378.55" y="495.48" width="23.45" height="14.57" fill="#0db417"/>
<rect x="401.60" y="495.48" width="23.45" height="14.57" fill="#09891b"/>
<rect x="424.65" y="495.48" width="23.45" height="14.57" fill="#09891b"/>
<rect x="447.70" y="495.48" width="23.45" height="14.57" fill="#063837"/>
<rect x="470.75" y="495.48" width="23.45" height="14.57" fill="#063837"/>
<rect x="493.80" y="495.48" width="23.45" height="14.57" fill="#09911a"/>
<rect x="516.85" y="495.48" width="23.45" height="14.57" fill="#0db816"/>
<rect x="539.90" y="495.48" width="23.45" height="14.57" fill="#063837"/>
<rect x="562.95" y="495.48" width="23.45" height="14.57" fill="#063837"/>
<rect x="586.00" y="495.48" width="23.45" height="14.57" fill="#087223"/>
<rect x="609.05" y="495.48" width="23.45" height="14.57" fill="#086826"/>
<rect x="632.10" y="495.48" width="23.45" height="14.57" fill="#063837"/>
<rect x="655.15" y="495.48" width="23.45" height="14.57" fill="#0b9d19"/>
<path d="M79.1 297.3L102.1 297.3M102.1 297.3L125.2 297.3M125.2 297.3L148.2 297.3M148.2 297.3L171.3 297.3M171.3 297.3L194.3 297.3M194.3 297.3L217.4 297.3M217.4 297.3L240.4 297.3M240.4 297.3L263.5 297.3M263.5 297.3L286.6 297.3M286.6 297.3L309.6 297.3M309.6 297.3L332.6 297.3M332.6 297.3L355.7 297.3M355.7 297.3L378.8 297.3M378.8 297.3L401.8 297.3M401.8 297.3L424.9 297.3M424.9 297.3L447.9 297.3M447.9 297.3L471.0 297.3M471.0 297.3L494.0 297.3M494.0 297.3L517.0 297.3M517.0 297.3L540.1 297.3M540.1 297.3L563.1 297.3M563.1 297.3L586.2 297.3M586.2 297.3L609.2 297.3M609.2 297.3L632.3 297.3M632.3 297.3L655.4 297.3M655.4 297.3L678.4 297.3M79.1 509.9L102.1 509.9M102.1 509.9L125.2 509.9M125.2 509.9L148.2 509.9M148.2 509.9L171.3 509.9M171.3 509.9L194.3 509.9M194.3 509.9L217.4 509.9M217.4 509.9L240.4 509.9M240.4 509.9L263.5 509.9M263.5 509.9L286.6 509.9M286.6 509.9L309.6 509.9M309.6 509.9L332.6 509.9M332.6 509.9L355.7 509.9M355.7 509.9L378.8 509.9M378.8 509.9L401.8 509.9M401.8 509.9L424.9 509.9M424.9 509.9L447.9 509.9M447.9 509.9L471.0 509.9M471.0 509.9L494.0 509.9M494.0 509.9L517.0 509.9M517.0 509.9L540.1 509.9M540.1 509.9L563.1 509.9M563.1 509.9L586.2 509.9M586.2 509.9L609.2 509.9M609.2 509.9L632.3 509.9M632.3 509.9L655.4 509.9M655.4 509.9L678.4 509.9M79.1 297.3L79.1 311.5M79.1 311.5L79.1 325.6M79.1 325.6L79.1 339.8M79.1 339.8L79.1 354.0M79.1 354.0L79.1 368.1M79.1 368.1L79.1 382.3M79.1 382.3L79.1 396.5M79.1 396.5L79.1 410.7M79.1 410.7L79.1 424.8M79.1 424.8L79.1 439.0M79.1 439.0L79.1 453.2M79.1 453.2L79.1 467.3M79.1 467.3L79.1 481.5M79.1 481.5L79.1 495.7M79.1 495.7L79.1 509.9M678.4 297.3L678.4 311.5M678.4 311.5L678.4 325.6M678.4 325.6L678.4 339.8M678.4 339.8L678.4 354.0M678.4 354.0L678.4 368.1M678.4 368.1L678.4 382.3M678.4 382.3L678.4 396.5M678.4 396.5L678.4 410.7M678.4 410.7L678.4 424.8M678.4 424.8L678.4 439.0M678.4 439.0L678.4 453.2M678.4 453.2L678.4 467.3M678.4 467.3L678.4 481.5M678.4 481.5L678.4 495.7M678.4 495.7L678.4 509.9" stroke="#fff" stroke-opacity="1.00" stroke-width="1.30" fill="none"/>
<path d="M79.1 311.5L102.1 311.5M378.8 311.5L401.8 311.5M79.1 325.6L102.1 325.6M378.8 325.6L401.8 325.6M79.1 339.8L102.1 339.8M378.8 339.8L401.8 339.8M79.1 354.0L102.1 354.0M378.8 354.0L401.8 354.0M79.1 368.1L102.1 368.1M79.1 382.3L102.1 382.3M378.8 382.3L401.8 382.3M79.1 396.5L102.1 396.5M378.8 396.5L401.8 396.5M79.1 410.7L102.1 410.7M79.1 424.8L102.1 424.8M378.8 424.8L401.8 424.8M79.1 439.0L102.1 439.0M378.8 439.0L401.8 439.0M79.1 453.2L102.1 453.2M79.1 467.3L102.1 467.3M79.1 481.5L102.1 481.5M79.1 495.7L102.1 495.7" stroke="#fff" stroke-opacity="0.50" stroke-width="1.30" fill="none"/>
<path d="M102.1 311.5L125.2 311.5M125.2 311.5L148.2 311.5M148.2 311.5L171.3 311.5M171.3 311.5L194.3 311.5M194.3 311.5L217.4 311.5M217.4 311.5L240.4 311.5M240.4 311.5L263.5 311.5M263.5 311.5L286.6 311.5M286.6 311.5L309.6 311.5M309.6 311.5L332.6 311.5M332.6 311.5L355.7 311.5M471.0 311.5L494.0 311.5M563.1 311.5L586.2 311.5M125.2 325.6L148.2 325.6M148.2 325.6L171.3 325.6M217.4 325.6L240.4 325.6M286.6 325.6L309.6 325.6M309.6 325.6L332.6 325.6M332.6 325.6L355.7 325.6M401.8 325.6L424.9 325.6M471.0 325.6L494.0 325.6M563.1 325.6L586.2 325.6M125.2 339.8L148.2 339.8M148.2 339.8L171.3 339.8M286.6 339.8L309.6 339.8M309.6 339.8L332.6 339.8M332.6 339.8L355.7 339.8M355.7 339.8L378.8 339.8M424.9 339.8L447.9 339.8M447.9 339.8L471.0 339.8M471.0 339.8L494.0 339.8M494.0 339.8L517.0 339.8M540.1 339.8L563.1 339.8M563.1 339.8L586.2 339.8M586.2 339.8L609.2 339.8M609.2 339.8L632.3 339.8M632.3 339.8L655.4 339.8M655.4 339.8L678.4 339.8M102.1 354.0L125.2 354.0M125.2 354.0L148.2 354.0M171.3 354.0L194.3 354.0M240.4 354.0L263.5 354.0M286.6 354.0L309.6 354.0M309.6 354.0L332.6 354.0M332.6 354.0L355.7 354.0M355.7 354.0L378.8 354.0M424.9 354.0L447.9 354.0M447.9 354.0L471.0 354.0M471.0 354.0L494.0 354.0M494.0 354.0L517.0 354.0M540.1 354.0L563.1 354.0M563.1 354.0L586.2 354.0M586.2 354.0L609.2 354.0M609.2 354.0L632.3 354.0M632.3 354.0L655.4 354.0M655.4 354.0L678.4 354.0M102.1 368.1L125.2 368.1M125.2 368.1L148.2 368.1M171.3 368.1L194.3 368.1M194.3 368.1L217.4 368.1M217.4 368.1L240.4 368.1M240.4 368.1L263.5 368.1M263.5 368.1L286.6 368.1M286.6 368.1L309.6 368.1M309.6 368.1L332.6 368.1M332.6 368.1L355.7 368.1M355.7 368.1L378.8 368.1M401.8 368.1L424.9 368.1M424.9 368.1L447.9 368.1M447.9 368.1L471.0 368.1M471.0 368.1L494.0 368.1M517.0 368.1L540.1 368.1M540.1 368.1L563.1 368.1M563.1 368.1L586.2 368.1M586.2 368.1L609.2 368.1M609.2 368.1L632.3 368.1M632.3 368.1L655.4 368.1M655.4 368.1L678.4 368.1M102.1 382.3L125.2 382.3M125.2 382.3L148.2 382.3M148.2 382.3L171.3 382.3M171.3 382.3L194.3 382.3M194.3 382.3L217.4 382.3M217.4 382.3L240.4 382.3M240.4 382.3L263.5 382.3M263.5 382.3L286.6 382.3M309.6 382.3L332.6 382.3M332.6 382.3L355.7 382.3M355.7 382.3L378.8 382.3M401.8 382.3L424.9 382.3M424.9 382.3L447.9 382.3M447.9 382.3L471.0 382.3M471.0 382.3L494.0 382.3M517.0 382.3L540.1 382.3M540.1 382.3L563.1 382.3M563.1 382.3L586.2 382.3M586.2 382.3L609.2 382.3M609.2 382.3L632.3 382.3M632.3 382.3L655.4 382.3M655.4 382.3L678.4 382.3M102.1 396.5L125.2 396.5M125.2 396.5L148.2 396.5M148.2 396.5L171.3 396.5M171.3 396.5L194.3 396.5M194.3 396.5L217.4 396.5M217.4 396.5L240.4 396.5M240.4 396.5L263.5 396.5M263.5 396.5L286.6 396.5M309.6 396.5L332.6 396.5M332.6 396.5L355.7 396.5M355.7 396.5L378.8 396.5M401.8 396.5L424.9 396.5M424.9 396.5L447.9 396.5M447.9 396.5L471.0 396.5M471.0 396.5L494.0 396.5M517.0 396.5L540.1 396.5M540.1 396.5L563.1 396.5M563.1 396.5L586.2 396.5M586.2 396.5L609.2 396.5M609.2 396.5L632.3 396.5M632.3 396.5L655.4 396.5M655.4 396.5L678.4 396.5M125.2 410.7L148.2 410.7M148.2 410.7L171.3 410.7M171.3 410.7L194.3 410.7M194.3 410.7L217.4 410.7M217.4 410.7L240.4 410.7M240.4 410.7L263.5 410.7M263.5 410.7L286.6 410.7M286.6 410.7L309.6 410.7M309.6 410.7L332.6 410.7M332.6 410.7L355.7 410.7M355.7 410.7L378.8 410.7M401.8 410.7L424.9 410.7M424.9 410.7L447.9 410.7M447.9 410.7L471.0 410.7M471.0 410.7L494.0 410.7M517.0 410.7L540.1 410.7M540.1 410.7L563.1 410.7M563.1 410.7L586.2 410.7M609.2 410.7L632.3 410.7M632.3 410.7L655.4 410.7M655.4 410.7L678.4 410.7M125.2 424.8L148.2 424.8M148.2 424.8L171.3 424.8M171.3 424.8L194.3 424.8M194.3 424.8L217.4 424.8M217.4 424.8L240.4 424.8M240.4 424.8L263.5 424.8M263.5 424.8L286.6 424.8M286.6 424.8L309.6 424.8M309.6 424.8L332.6 424.8M332.6 424.8L355.7 424.8M355.7 424.8L378.8 424.8M424.9 424.8L447.9 424.8M447.9 424.8L471.0 424.8M471.0 424.8L494.0 424.8M517.0 424.8L540.1 424.8M540.1 424.8L563.1 424.8M563.1 424.8L586.2 424.8M609.2 424.8L632.3 424.8M632.3 424.8L655.4 424.8M655.4 424.8L678.4 424.8M102.1 439.0L125.2 439.0M125.2 439.0L148.2 439.0M148.2 439.0L171.3 439.0M171.3 439.0L194.3 439.0M217.4 439.0L240.4 439.0M240.4 439.0L263.5 439.0M263.5 439.0L286.6 439.0M309.6 439.0L332.6 439.0M332.6 439.0L355.7 439.0M355.7 439.0L378.8 439.0M424.9 439.0L447.9 439.0M447.9 439.0L471.0 439.0M471.0 439.0L494.0 439.0M517.0 439.0L540.1 439.0M540.1 439.0L563.1 439.0M563.1 439.0L586.2 439.0M609.2 439.0L632.3 439.0M632.3 439.0L655.4 439.0M655.4 439.0L678.4 439.0M102.1 453.2L125.2 453.2M125.2 453.2L148.2 453.2M217.4 453.2L240.4 453.2M240.4 453.2L263.5 453.2M309.6 453.2L332.6 453.2M332.6 453.2L355.7 453.2M355.7 453.2L378.8 453.2M401.8 453.2L424.9 453.2M424.9 453.2L447.9 453.2M494.0 453.2L517.0 453.2M517.0 453.2L540.1 453.2M540.1 453.2L563.1 453.2M563.1 453.2L586.2 453.2M609.2 453.2L632.3 453.2M632.3 453.2L655.4 453.2M655.4 453.2L678.4 453.2M102.1 467.3L125.2 467.3M125.2 467.3L148.2 467.3M194.3 467.3L217.4 467.3M217.4 467.3L240.4 467.3M240.4 467.3L263.5 467.3M286.6 467.3L309.6 467.3M309.6 467.3L332.6 467.3M332.6 467.3L355.7 467.3M355.7 467.3L378.8 467.3M401.8 467.3L424.9 467.3M424.9 467.3L447.9 467.3M494.0 467.3L517.0 467.3M517.0 467.3L540.1 467.3M540.1 467.3L563.1 467.3M563.1 467.3L586.2 467.3M609.2 467.3L632.3 467.3M632.3 467.3L655.4 467.3M655.4 467.3L678.4 467.3M102.1 481.5L125.2 481.5M125.2 481.5L148.2 481.5M148.2 481.5L171.3 481.5M171.3 481.5L194.3 481.5M194.3 481.5L217.4 481.5M217.4 481.5L240.4 481.5M240.4 481.5L263.5 481.5M263.5 481.5L286.6 481.5M309.6 481.5L332.6 481.5M332.6 481.5L355.7 481.5M355.7 481.5L378.8 481.5M401.8 481.5L424.9 481.5M424.9 481.5L447.9 481.5M447.9 481.5L471.0 481.5M471.0 481.5L494.0 481.5M517.0 481.5L540.1 481.5M540.1 481.5L563.1 481.5M563.1 481.5L586.2 481.5M609.2 481.5L632.3 481.5M632.3 481.5L655.4 481.5M655.4 481.5L678.4 481.5M102.1 495.7L125.2 495.7M125.2 495.7L148.2 495.7M148.2 495.7L171.3 495.7M171.3 495.7L194.3 495.7M194.3 495.7L217.4 495.7M217.4 495.7L240.4 495.7M240.4 495.7L263.5 495.7M309.6 495.7L332.6 495.7M332.6 495.7L355.7 495.7M355.7 495.7L378.8 495.7M447.9 495.7L471.0 495.7M471.0 495.7L494.0 495.7M540.1 495.7L563.1 495.7M563.1 495.7L586.2 495.7M632.3 495.7L655.4 495.7M125.2 325.6L125.2 339.8M125.2 410.7L125.2 424.8M171.3 325.6L171.3 339.8M194.3 339.8L194.3 354.0M194.3 439.0L194.3 453.2M217.4 325.6L217.4 339.8M217.4 439.0L217.4 453.2M240.4 339.8L240.4 354.0M263.5 453.2L263.5 467.3M263.5 495.7L263.5 509.9M286.6 382.3L286.6 396.5M286.6 439.0L286.6 453.2M286.6 453.2L286.6 467.3M286.6 481.5L286.6 495.7M286.6 495.7L286.6 509.9M309.6 382.3L309.6 396.5M309.6 439.0L309.6 453.2M309.6 481.5L309.6 495.7M355.7 311.5L355.7 325.6M424.9 297.3L424.9 311.5M424.9 311.5L424.9 325.6M424.9 339.8L424.9 354.0M424.9 424.8L424.9 439.0M471.0 311.5L471.0 325.6M494.0 368.1L494.0 382.3M494.0 382.3L494.0 396.5M494.0 410.7L494.0 424.8M494.0 424.8L494.0 439.0M494.0 481.5L494.0 495.7M517.0 339.8L517.0 354.0M517.0 368.1L517.0 382.3M517.0 382.3L517.0 396.5M517.0 410.7L517.0 424.8M517.0 424.8L517.0 439.0M517.0 481.5L517.0 495.7M540.1 339.8L540.1 354.0M563.1 311.5L563.1 325.6M586.2 311.5L586.2 325.6M586.2 410.7L586.2 424.8M586.2 439.0L586.2 453.2M586.2 467.3L586.2 481.5M586.2 481.5L586.2 495.7M586.2 495.7L586.2 509.9M609.2 410.7L609.2 424.8M609.2 439.0L609.2 453.2M609.2 467.3L609.2 481.5M609.2 481.5L609.2 495.7M632.3 495.7L632.3 509.9" stroke="#fff" stroke-opacity="0.85" stroke-width="1.30" fill="none"/>
<path d="M355.7 311.5L378.8 311.5M401.8 311.5L424.9 311.5M447.9 311.5L471.0 311.5M540.1 311.5L563.1 311.5M586.2 311.5L609.2 311.5M655.4 311.5L678.4 311.5M102.1 325.6L125.2 325.6M171.3 325.6L194.3 325.6M194.3 325.6L217.4 325.6M355.7 325.6L378.8 325.6M447.9 325.6L471.0 325.6M540.1 325.6L563.1 325.6M586.2 325.6L609.2 325.6M655.4 325.6L678.4 325.6M102.1 339.8L125.2 339.8M171.3 339.8L194.3 339.8M401.8 339.8L424.9 339.8M517.0 339.8L540.1 339.8M194.3 354.0L217.4 354.0M401.8 354.0L424.9 354.0M517.0 354.0L540.1 354.0M494.0 368.1L517.0 368.1M286.6 382.3L309.6 382.3M286.6 396.5L309.6 396.5M494.0 396.5L517.0 396.5M102.1 410.7L125.2 410.7M494.0 410.7L517.0 410.7M586.2 410.7L609.2 410.7M102.1 424.8L125.2 424.8M401.8 424.8L424.9 424.8M194.3 439.0L217.4 439.0M286.6 439.0L309.6 439.0M401.8 439.0L424.9 439.0M494.0 439.0L517.0 439.0M194.3 453.2L217.4 453.2M263.5 453.2L286.6 453.2M286.6 453.2L309.6 453.2M263.5 467.3L286.6 467.3M586.2 467.3L609.2 467.3M494.0 481.5L517.0 481.5M263.5 495.7L286.6 495.7M286.6 495.7L309.6 495.7M609.2 495.7L632.3 495.7M102.1 297.3L102.1 311.5M102.1 396.5L102.1 410.7M148.2 354.0L148.2 368.1M148.2 453.2L148.2 467.3M171.3 354.0L171.3 368.1M194.3 325.6L194.3 339.8M194.3 453.2L194.3 467.3M217.4 339.8L217.4 354.0M240.4 325.6L240.4 339.8M286.6 325.6L286.6 339.8M378.8 354.0L378.8 368.1M378.8 368.1L378.8 382.3M378.8 396.5L378.8 410.7M378.8 410.7L378.8 424.8M378.8 439.0L378.8 453.2M378.8 453.2L378.8 467.3M378.8 467.3L378.8 481.5M378.8 481.5L378.8 495.7M378.8 495.7L378.8 509.9M401.8 354.0L401.8 368.1M401.8 368.1L401.8 382.3M401.8 396.5L401.8 410.7M401.8 410.7L401.8 424.8M401.8 439.0L401.8 453.2M401.8 453.2L401.8 467.3M401.8 467.3L401.8 481.5M401.8 481.5L401.8 495.7M447.9 311.5L447.9 325.6M447.9 453.2L447.9 467.3M447.9 495.7L447.9 509.9M494.0 311.5L494.0 325.6M494.0 453.2L494.0 467.3M494.0 495.7L494.0 509.9M540.1 495.7L540.1 509.9M586.2 424.8L586.2 439.0M609.2 311.5L609.2 325.6M609.2 424.8L609.2 439.0M609.2 495.7L609.2 509.9M655.4 311.5L655.4 325.6M655.4 495.7L655.4 509.9" stroke="#fff" stroke-opacity="0.80" stroke-width="1.30" fill="none"/>
<path d="M424.9 311.5L447.9 311.5M494.0 311.5L517.0 311.5M609.2 311.5L632.3 311.5M632.3 311.5L655.4 311.5M240.4 325.6L263.5 325.6M263.5 325.6L286.6 325.6M424.9 325.6L447.9 325.6M494.0 325.6L517.0 325.6M609.2 325.6L632.3 325.6M632.3 325.6L655.4 325.6M194.3 339.8L217.4 339.8M217.4 339.8L240.4 339.8M240.4 339.8L263.5 339.8M148.2 354.0L171.3 354.0M217.4 354.0L240.4 354.0M148.2 368.1L171.3 368.1M494.0 382.3L517.0 382.3M494.0 424.8L517.0 424.8M148.2 453.2L171.3 453.2M447.9 453.2L471.0 453.2M586.2 453.2L609.2 453.2M148.2 467.3L171.3 467.3M447.9 467.3L471.0 467.3M286.6 481.5L309.6 481.5M586.2 481.5L609.2 481.5M401.8 495.7L424.9 495.7M424.9 495.7L447.9 495.7M655.4 495.7L678.4 495.7M102.1 311.5L102.1 325.6M102.1 325.6L102.1 339.8M102.1 339.8L102.1 354.0M102.1 354.0L102.1 368.1M102.1 368.1L102.1 382.3M102.1 382.3L102.1 396.5M102.1 410.7L102.1 424.8M102.1 424.8L102.1 439.0M102.1 439.0L102.1 453.2M102.1 453.2L102.1 467.3M102.1 467.3L102.1 481.5M102.1 481.5L102.1 495.7M102.1 495.7L102.1 509.9M263.5 325.6L263.5 339.8M263.5 339.8L263.5 354.0M286.6 339.8L286.6 354.0M378.8 297.3L378.8 311.5M378.8 325.6L378.8 339.8M378.8 339.8L378.8 354.0M378.8 382.3L378.8 396.5M378.8 424.8L378.8 439.0M401.8 297.3L401.8 311.5M401.8 311.5L401.8 325.6M401.8 325.6L401.8 339.8M401.8 339.8L401.8 354.0M401.8 382.3L401.8 396.5M401.8 424.8L401.8 439.0M424.9 495.7L424.9 509.9M540.1 311.5L540.1 325.6M632.3 311.5L632.3 325.6" stroke="#fff" stroke-opacity="0.75" stroke-width="1.30" fill="none"/>
<path d="M517.0 311.5L540.1 311.5M517.0 325.6L540.1 325.6M263.5 354.0L286.6 354.0M586.2 424.8L609.2 424.8M171.3 453.2L194.3 453.2M471.0 453.2L494.0 453.2M171.3 467.3L194.3 467.3M471.0 467.3L494.0 467.3M494.0 495.7L517.0 495.7M517.0 495.7L540.1 495.7M586.2 495.7L609.2 495.7M171.3 453.2L171.3 467.3M378.8 311.5L378.8 325.6M401.8 495.7L401.8 509.9M471.0 453.2L471.0 467.3M517.0 311.5L517.0 325.6M517.0 495.7L517.0 509.9" stroke="#fff" stroke-opacity="0.70" stroke-width="1.30" fill="none"/>
<path d="M263.5 339.8L286.6 339.8" stroke="#fff" stroke-opacity="0.60" stroke-width="1.30" fill="none"/>
<path d="M378.8 368.1L401.8 368.1M378.8 410.7L401.8 410.7M378.8 453.2L401.8 453.2M378.8 467.3L401.8 467.3M378.8 481.5L401.8 481.5M378.8 495.7L401.8 495.7" stroke="#fff" stroke-opacity="0.55" stroke-width="1.30" fill="none"/>
<path d="M586.2 439.0L609.2 439.0" stroke="#fff" stroke-opacity="0.65" stroke-width="1.30" fill="none"/>
<path d="M125.2 297.3L125.2 311.5M125.2 311.5L125.2 325.6M125.2 339.8L125.2 354.0M125.2 354.0L125.2 368.1M125.2 368.1L125.2 382.3M125.2 382.3L125.2 396.5M125.2 396.5L125.2 410.7M125.2 424.8L125.2 439.0M125.2 439.0L125.2 453.2M125.2 453.2L125.2 467.3M125.2 467.3L125.2 481.5M125.2 481.5L125.2 495.7M125.2 495.7L125.2 509.9M148.2 297.3L148.2 311.5M148.2 311.5L148.2 325.6M148.2 325.6L148.2 339.8M148.2 339.8L148.2 354.0M148.2 368.1L148.2 382.3M148.2 382.3L148.2 396.5M148.2 396.5L148.2 410.7M148.2 410.7L148.2 424.8M148.2 424.8L148.2 439.0M148.2 439.0L148.2 453.2M148.2 467.3L148.2 481.5M148.2 481.5L148.2 495.7M148.2 495.7L148.2 509.9M171.3 297.3L171.3 311.5M171.3 311.5L171.3 325.6M171.3 339.8L171.3 354.0M171.3 368.1L171.3 382.3M171.3 382.3L171.3 396.5M171.3 396.5L171.3 410.7M171.3 410.7L171.3 424.8M171.3 424.8L171.3 439.0M171.3 439.0L171.3 453.2M171.3 467.3L171.3 481.5M171.3 481.5L171.3 495.7M171.3 495.7L171.3 509.9M194.3 297.3L194.3 311.5M194.3 311.5L194.3 325.6M194.3 354.0L194.3 368.1M194.3 368.1L194.3 382.3M194.3 382.3L194.3 396.5M194.3 396.5L194.3 410.7M194.3 410.7L194.3 424.8M194.3 424.8L194.3 439.0M194.3 467.3L194.3 481.5M194.3 481.5L194.3 495.7M194.3 495.7L194.3 509.9M217.4 297.3L217.4 311.5M217.4 311.5L217.4 325.6M217.4 354.0L217.4 368.1M217.4 368.1L217.4 382.3M217.4 382.3L217.4 396.5M217.4 396.5L217.4 410.7M217.4 410.7L217.4 424.8M217.4 424.8L217.4 439.0M217.4 453.2L217.4 467.3M217.4 467.3L217.4 481.5M217.4 481.5L217.4 495.7M217.4 495.7L217.4 509.9M240.4 297.3L240.4 311.5M240.4 311.5L240.4 325.6M240.4 354.0L240.4 368.1M240.4 368.1L240.4 382.3M240.4 382.3L240.4 396.5M240.4 396.5L240.4 410.7M240.4 410.7L240.4 424.8M240.4 424.8L240.4 439.0M240.4 439.0L240.4 453.2M240.4 453.2L240.4 467.3M240.4 467.3L240.4 481.5M240.4 481.5L240.4 495.7M240.4 495.7L240.4 509.9M263.5 297.3L263.5 311.5M263.5 311.5L263.5 325.6M263.5 354.0L263.5 368.1M263.5 368.1L263.5 382.3M263.5 382.3L263.5 396.5M263.5 396.5L263.5 410.7M263.5 410.7L263.5 424.8M263.5 424.8L263.5 439.0M263.5 439.0L263.5 453.2M263.5 467.3L263.5 481.5M263.5 481.5L263.5 495.7M286.6 297.3L286.6 311.5M286.6 311.5L286.6 325.6M286.6 354.0L286.6 368.1M286.6 368.1L286.6 382.3M286.6 396.5L286.6 410.7M286.6 410.7L286.6 424.8M286.6 424.8L286.6 439.0M286.6 467.3L286.6 481.5M309.6 297.3L309.6 311.5M309.6 311.5L309.6 325.6M309.6 325.6L309.6 339.8M309.6 339.8L309.6 354.0M309.6 354.0L309.6 368.1M309.6 368.1L309.6 382.3M309.6 396.5L309.6 410.7M309.6 410.7L309.6 424.8M309.6 424.8L309.6 439.0M309.6 453.2L309.6 467.3M309.6 467.3L309.6 481.5M309.6 495.7L309.6 509.9M332.6 297.3L332.6 311.5M332.6 311.5L332.6 325.6M332.6 325.6L332.6 339.8M332.6 339.8L332.6 354.0M332.6 354.0L332.6 368.1M332.6 368.1L332.6 382.3M332.6 382.3L332.6 396.5M332.6 396.5L332.6 410.7M332.6 410.7L332.6 424.8M332.6 424.8L332.6 439.0M332.6 439.0L332.6 453.2M332.6 453.2L332.6 467.3M332.6 467.3L332.6 481.5M332.6 481.5L332.6 495.7M332.6 495.7L332.6 509.9M355.7 297.3L355.7 311.5M355.7 325.6L355.7 339.8M355.7 339.8L355.7 354.0M355.7 354.0L355.7 368.1M355.7 368.1L355.7 382.3M355.7 382.3L355.7 396.5M355.7 396.5L355.7 410.7M355.7 410.7L355.7 424.8M355.7 424.8L355.7 439.0M355.7 439.0L355.7 453.2M355.7 453.2L355.7 467.3M355.7 467.3L355.7 481.5M355.7 481.5L355.7 495.7M355.7 495.7L355.7 509.9M424.9 325.6L424.9 339.8M424.9 354.0L424.9 368.1M424.9 368.1L424.9 382.3M424.9 382.3L424.9 396.5M424.9 396.5L424.9 410.7M424.9 410.7L424.9 424.8M424.9 439.0L424.9 453.2M424.9 453.2L424.9 467.3M424.9 467.3L424.9 481.5M424.9 481.5L424.9 495.7M447.9 297.3L447.9 311.5M447.9 325.6L447.9 339.8M447.9 339.8L447.9 354.0M447.9 354.0L447.9 368.1M447.9 368.1L447.9 382.3M447.9 382.3L447.9 396.5M447.9 396.5L447.9 410.7M447.9 410.7L447.9 424.8M447.9 424.8L447.9 439.0M447.9 439.0L447.9 453.2M447.9 467.3L447.9 481.5M447.9 481.5L447.9 495.7M471.0 297.3L471.0 311.5M471.0 325.6L471.0 339.8M471.0 339.8L471.0 354.0M471.0 354.0L471.0 368.1M471.0 368.1L471.0 382.3M471.0 382.3L471.0 396.5M471.0 396.5L471.0 410.7M471.0 410.7L471.0 424.8M471.0 424.8L471.0 439.0M471.0 439.0L471.0 453.2M471.0 467.3L471.0 481.5M471.0 481.5L471.0 495.7M471.0 495.7L471.0 509.9M494.0 297.3L494.0 311.5M494.0 325.6L494.0 339.8M494.0 339.8L494.0 354.0M494.0 354.0L494.0 368.1M494.0 396.5L494.0 410.7M494.0 439.0L494.0 453.2M494.0 467.3L494.0 481.5M517.0 297.3L517.0 311.5M517.0 325.6L517.0 339.8M517.0 354.0L517.0 368.1M517.0 396.5L517.0 410.7M517.0 439.0L517.0 453.2M517.0 453.2L517.0 467.3M517.0 467.3L517.0 481.5M540.1 297.3L540.1 311.5M540.1 325.6L540.1 339.8M540.1 354.0L540.1 368.1M540.1 368.1L540.1 382.3M540.1 382.3L540.1 396.5M540.1 396.5L540.1 410.7M540.1 410.7L540.1 424.8M540.1 424.8L540.1 439.0M540.1 439.0L540.1 453.2M540.1 453.2L540.1 467.3M540.1 467.3L540.1 481.5M540.1 481.5L540.1 495.7M563.1 297.3L563.1 311.5M563.1 325.6L563.1 339.8M563.1 339.8L563.1 354.0M563.1 354.0L563.1 368.1M563.1 368.1L563.1 382.3M563.1 382.3L563.1 396.5M563.1 396.5L563.1 410.7M563.1 410.7L563.1 424.8M563.1 424.8L563.1 439.0M563.1 439.0L563.1 453.2M563.1 453.2L563.1 467.3M563.1 467.3L563.1 481.5M563.1 481.5L563.1 495.7M563.1 495.7L563.1 509.9M586.2 297.3L586.2 311.5M586.2 325.6L586.2 339.8M586.2 339.8L586.2 354.0M586.2 354.0L586.2 368.1M586.2 368.1L586.2 382.3M586.2 382.3L586.2 396.5M586.2 396.5L586.2 410.7M586.2 453.2L586.2 467.3M609.2 297.3L609.2 311.5M609.2 325.6L609.2 339.8M609.2 339.8L609.2 354.0M609.2 354.0L609.2 368.1M609.2 368.1L609.2 382.3M609.2 382.3L609.2 396.5M609.2 396.5L609.2 410.7M609.2 453.2L609.2 467.3M632.3 297.3L632.3 311.5M632.3 325.6L632.3 339.8M632.3 339.8L632.3 354.0M632.3 354.0L632.3 368.1M632.3 368.1L632.3 382.3M632.3 382.3L632.3 396.5M632.3 396.5L632.3 410.7M632.3 410.7L632.3 424.8M632.3 424.8L632.3 439.0M632.3 439.0L632.3 453.2M632.3 453.2L632.3 467.3M632.3 467.3L632.3 481.5M632.3 481.5L632.3 495.7M655.4 297.3L655.4 311.5M655.4 325.6L655.4 339.8M655.4 339.8L655.4 354.0M655.4 354.0L655.4 368.1M655.4 368.1L655.4 382.3M655.4 382.3L655.4 396.5M655.4 396.5L655.4 410.7M655.4 410.7L655.4 424.8M655.4 424.8L655.4 439.0M655.4 439.0L655.4 453.2M655.4 453.2L655.4 467.3M655.4 467.3L655.4 481.5M655.4 481.5L655.4 495.7" stroke="#fff" stroke-opacity="0.90" stroke-width="1.30" fill="none"/>
<rect x="78.80" y="297.00" width="599.90" height="213.15" fill="none" stroke="#fff" stroke-width="1.90"/>
<text x="76.00" y="306.88" font-size="9.80" text-anchor="end" fill="#222" font-weight="normal" font-style="italic" textLength="47.00" lengthAdjust="spacingAndGlyphs" stroke="#222" stroke-width="0.25">OsPP2C</text>
<text x="76.00" y="321.06" font-size="9.80" text-anchor="end" fill="#222" font-weight="normal" font-style="italic" textLength="49.30" lengthAdjust="spacingAndGlyphs" stroke="#222" stroke-width="0.25">OsSKIP1</text>
<text x="76.00" y="335.23" font-size="9.80" text-anchor="end" fill="#222" font-weight="normal" font-style="italic" textLength="58.00" lengthAdjust="spacingAndGlyphs" stroke="#222" stroke-width="0.25">OsLEA3-1</text>
<text x="76.00" y="349.39" font-size="9.80" text-anchor="end" fill="#222" font-weight="normal" font-style="italic" textLength="56.20" lengthAdjust="spacingAndGlyphs" stroke="#222" stroke-width="0.25">OsAOX1a</text>
<text x="76.00" y="363.56" font-size="9.80" text-anchor="end" fill="#222" font-weight="normal" font-style="italic" textLength="45.40" lengthAdjust="spacingAndGlyphs" stroke="#222" stroke-width="0.25">OsTPP1</text>
<text x="76.00" y="377.74" font-size="9.80" text-anchor="end" fill="#222" font-weight="normal" font-style="italic" textLength="64.40" lengthAdjust="spacingAndGlyphs" stroke="#222" stroke-width="0.25">OsDREB2B</text>
<text x="76.00" y="391.91" font-size="9.80" text-anchor="end" fill="#222" font-weight="normal" font-style="italic" textLength="70.50" lengthAdjust="spacingAndGlyphs" stroke="#222" stroke-width="0.25">OsDHODH1</text>
<text x="76.00" y="406.08" font-size="9.80" text-anchor="end" fill="#222" font-weight="normal" font-style="italic" textLength="49.00" lengthAdjust="spacingAndGlyphs" stroke="#222" stroke-width="0.25">OsNAC1</text>
<text x="76.00" y="420.25" font-size="9.80" text-anchor="end" fill="#222" font-weight="normal" font-style="italic" textLength="49.00" lengthAdjust="spacingAndGlyphs" stroke="#222" stroke-width="0.25">OsNAC2</text>
<text x="76.00" y="434.42" font-size="9.80" text-anchor="end" fill="#222" font-weight="normal" font-style="italic" textLength="41.30" lengthAdjust="spacingAndGlyphs" stroke="#222" stroke-width="0.25">OsSIK1</text>
<text x="76.00" y="448.59" font-size="9.80" text-anchor="end" fill="#222" font-weight="normal" font-style="italic" textLength="67.80" lengthAdjust="spacingAndGlyphs" stroke="#222" stroke-width="0.25">OsNADPH1</text>
<text x="76.00" y="462.75" font-size="9.80" text-anchor="end" fill="#222" font-weight="normal" font-style="italic" textLength="68.00" lengthAdjust="spacingAndGlyphs" stroke="#222" stroke-width="0.25">OsWRKY72</text>
<text x="76.00" y="476.93" font-size="9.80" text-anchor="end" fill="#222" font-weight="normal" font-style="italic" textLength="51.50" lengthAdjust="spacingAndGlyphs" stroke="#222" stroke-width="0.25">OsGL1-2</text>
<text x="76.00" y="491.10" font-size="9.80" text-anchor="end" fill="#222" font-weight="normal" font-style="italic" textLength="57.20" lengthAdjust="spacingAndGlyphs" stroke="#222" stroke-width="0.25">OsALDH2</text>
<text x="76.00" y="505.26" font-size="9.80" text-anchor="end" fill="#222" font-weight="normal" font-style="italic" textLength="58.20" lengthAdjust="spacingAndGlyphs" stroke="#222" stroke-width="0.25">OsBZIP23</text>
<text x="204.10" y="254.50" font-size="9.80" text-anchor="start" fill="#222" font-weight="normal" font-style="normal" textLength="100.50" lengthAdjust="spacingAndGlyphs">Line:TR2.24 Shoots</text>
<text x="477.20" y="254.50" font-size="9.80" text-anchor="start" fill="#222" font-weight="normal" font-style="normal" textLength="97.60" lengthAdjust="spacingAndGlyphs">Line: TR2.24 Roots</text>
<text x="92.80" y="267.00" font-size="10.00" text-anchor="start" fill="#222" font-weight="normal" font-style="normal" textLength="9.60" lengthAdjust="spacingAndGlyphs">b)</text>
<text x="408.10" y="256.40" font-size="10.00" text-anchor="start" fill="#3a3a3a" font-weight="bold" font-style="normal" textLength="8.80" lengthAdjust="spacingAndGlyphs">c)</text>
<text x="132.00" y="272.10" font-size="8.50" text-anchor="middle" fill="#222" font-weight="normal" font-style="normal" textLength="20.00" lengthAdjust="spacingAndGlyphs">PEG</text>
<text x="251.30" y="272.10" font-size="8.50" text-anchor="middle" fill="#222" font-weight="normal" font-style="normal" textLength="21.00" lengthAdjust="spacingAndGlyphs">ABA</text>
<text x="323.90" y="272.10" font-size="8.50" text-anchor="middle" fill="#222" font-weight="normal" font-style="normal" textLength="23.50" lengthAdjust="spacingAndGlyphs">NaCl</text>
<text x="434.70" y="270.50" font-size="8.50" text-anchor="middle" fill="#222" font-weight="normal" font-style="normal" textLength="20.00" lengthAdjust="spacingAndGlyphs">PEG</text>
<text x="554.00" y="270.50" font-size="8.50" text-anchor="middle" fill="#222" font-weight="normal" font-style="normal" textLength="21.00" lengthAdjust="spacingAndGlyphs">ABA</text>
<text x="625.60" y="270.50" font-size="8.50" text-anchor="middle" fill="#222" font-weight="normal" font-style="normal" textLength="23.50" lengthAdjust="spacingAndGlyphs">NaCl</text>
<line x1="82.10" y1="279.20" x2="194.60" y2="279.20" stroke="#444" stroke-width="0.8"/>
<polygon points="80.10,279.20 85.70,277.30 85.70,281.10" fill="#222"/>
<polygon points="196.60,279.20 191.00,277.30 191.00,281.10" fill="#222"/>
<line x1="201.30" y1="279.20" x2="285.60" y2="279.20" stroke="#444" stroke-width="0.8"/>
<polygon points="199.30,279.20 204.90,277.30 204.90,281.10" fill="#222"/>
<polygon points="287.60,279.20 282.00,277.30 282.00,281.10" fill="#222"/>
<line x1="292.80" y1="279.20" x2="374.50" y2="279.20" stroke="#444" stroke-width="0.8"/>
<polygon points="290.80,279.20 296.40,277.30 296.40,281.10" fill="#222"/>
<polygon points="376.50,279.20 370.90,277.30 370.90,281.10" fill="#222"/>
<line x1="386.00" y1="279.20" x2="497.00" y2="279.20" stroke="#444" stroke-width="0.8"/>
<polygon points="384.00,279.20 389.60,277.30 389.60,281.10" fill="#222"/>
<polygon points="499.00,279.20 493.40,277.30 493.40,281.10" fill="#222"/>
<line x1="504.40" y1="279.20" x2="587.60" y2="279.20" stroke="#444" stroke-width="0.8"/>
<polygon points="502.40,279.20 508.00,277.30 508.00,281.10" fill="#222"/>
<polygon points="589.60,279.20 584.00,277.30 584.00,281.10" fill="#222"/>
<line x1="595.50" y1="279.20" x2="675.90" y2="279.20" stroke="#444" stroke-width="0.8"/>
<polygon points="593.50,279.20 599.10,277.30 599.10,281.10" fill="#222"/>
<polygon points="677.90,279.20 672.30,277.30 672.30,281.10" fill="#222"/>
<text x="93.20" y="289.00" font-size="6.40" text-anchor="middle" fill="#666" font-weight="normal" font-style="normal" textLength="11.80" lengthAdjust="spacingAndGlyphs">Oh</text>
<text x="117.40" y="289.00" font-size="6.40" text-anchor="middle" fill="#666" font-weight="normal" font-style="normal" textLength="12.30" lengthAdjust="spacingAndGlyphs">5m</text>
<text x="136.10" y="289.00" font-size="6.40" text-anchor="middle" fill="#666" font-weight="normal" font-style="normal" textLength="9.80" lengthAdjust="spacingAndGlyphs">3h</text>
<text x="162.40" y="289.00" font-size="6.40" text-anchor="middle" fill="#666" font-weight="normal" font-style="normal" textLength="10.00" lengthAdjust="spacingAndGlyphs">6h</text>
<text x="182.30" y="289.00" font-size="6.40" text-anchor="middle" fill="#666" font-weight="normal" font-style="normal" textLength="15.20" lengthAdjust="spacingAndGlyphs">24h</text>
<text x="205.40" y="289.00" font-size="6.40" text-anchor="middle" fill="#666" font-weight="normal" font-style="normal" textLength="12.30" lengthAdjust="spacingAndGlyphs">5m</text>
<text x="226.60" y="289.00" font-size="6.40" text-anchor="middle" fill="#666" font-weight="normal" font-style="normal" textLength="9.80" lengthAdjust="spacingAndGlyphs">3h</text>
<text x="250.00" y="289.00" font-size="6.40" text-anchor="middle" fill="#666" font-weight="normal" font-style="normal" textLength="10.00" lengthAdjust="spacingAndGlyphs">6h</text>
<text x="270.90" y="289.00" font-size="6.40" text-anchor="middle" fill="#666" font-weight="normal" font-style="normal" textLength="15.20" lengthAdjust="spacingAndGlyphs">24h</text>
<text x="295.00" y="289.00" font-size="6.40" text-anchor="middle" fill="#666" font-weight="normal" font-style="normal" textLength="12.30" lengthAdjust="spacingAndGlyphs">5m</text>
<text x="316.50" y="289.00" font-size="6.40" text-anchor="middle" fill="#666" font-weight="normal" font-style="normal" textLength="9.80" lengthAdjust="spacingAndGlyphs">3h</text>
<text x="341.50" y="289.00" font-size="6.40" text-anchor="middle" fill="#666" font-weight="normal" font-style="normal" textLength="10.00" lengthAdjust="spacingAndGlyphs">6h</text>
<text x="361.40" y="289.00" font-size="6.40" text-anchor="middle" fill="#666" font-weight="normal" font-style="normal" textLength="15.20" lengthAdjust="spacingAndGlyphs">24h</text>
<text x="396.20" y="289.00" font-size="6.40" text-anchor="middle" fill="#666" font-weight="normal" font-style="normal" textLength="11.80" lengthAdjust="spacingAndGlyphs">Oh</text>
<text x="419.60" y="289.00" font-size="6.40" text-anchor="middle" fill="#666" font-weight="normal" font-style="normal" textLength="12.30" lengthAdjust="spacingAndGlyphs">5m</text>
<text x="438.90" y="289.00" font-size="6.40" text-anchor="middle" fill="#666" font-weight="normal" font-style="normal" textLength="9.80" lengthAdjust="spacingAndGlyphs">3h</text>
<text x="465.20" y="289.00" font-size="6.40" text-anchor="middle" fill="#666" font-weight="normal" font-style="normal" textLength="10.00" lengthAdjust="spacingAndGlyphs">6h</text>
<text x="485.20" y="289.00" font-size="6.40" text-anchor="middle" fill="#666" font-weight="normal" font-style="normal" textLength="15.20" lengthAdjust="spacingAndGlyphs">24h</text>
<text x="507.50" y="289.00" font-size="6.40" text-anchor="middle" fill="#666" font-weight="normal" font-style="normal" textLength="12.30" lengthAdjust="spacingAndGlyphs">5m</text>
<text x="529.40" y="289.00" font-size="6.40" text-anchor="middle" fill="#666" font-weight="normal" font-style="normal" textLength="9.80" lengthAdjust="spacingAndGlyphs">3h</text>
<text x="552.20" y="289.00" font-size="6.40" text-anchor="middle" fill="#666" font-weight="normal" font-style="normal" textLength="10.00" lengthAdjust="spacingAndGlyphs">6h</text>
<text x="571.00" y="289.00" font-size="6.40" text-anchor="middle" fill="#666" font-weight="normal" font-style="normal" textLength="15.20" lengthAdjust="spacingAndGlyphs">24h</text>
<text x="597.60" y="289.00" font-size="6.40" text-anchor="middle" fill="#666" font-weight="normal" font-style="normal" textLength="12.30" lengthAdjust="spacingAndGlyphs">5m</text>
<text x="619.00" y="289.00" font-size="6.40" text-anchor="middle" fill="#666" font-weight="normal" font-style="normal" textLength="9.80" lengthAdjust="spacingAndGlyphs">3h</text>
<text x="642.60" y="289.00" font-size="6.40" text-anchor="middle" fill="#666" font-weight="normal" font-style="normal" textLength="10.00" lengthAdjust="spacingAndGlyphs">6h</text>
<text x="662.80" y="289.00" font-size="6.40" text-anchor="middle" fill="#666" font-weight="normal" font-style="normal" textLength="15.20" lengthAdjust="spacingAndGlyphs">24h</text>
<defs><linearGradient id="g1" x1="0" x2="1" y1="0" y2="0"><stop offset="0" stop-color="#24f024"/><stop offset="0.5" stop-color="#129e1e"/><stop offset="1" stop-color="#083034"/></linearGradient></defs>
<rect x="300.80" y="525.00" width="205.80" height="6.40" fill="url(#g1)" stroke="#0a3a1a" stroke-width="1"/>
<text x="403.30" y="523.20" font-size="6.20" text-anchor="middle" fill="#222" font-weight="bold" font-style="normal" textLength="22.50" lengthAdjust="spacingAndGlyphs">global</text>
<text x="304.00" y="538.30" font-size="6.20" text-anchor="middle" fill="#222" font-weight="bold" font-style="normal" textLength="6.80" lengthAdjust="spacingAndGlyphs">-3</text>
<text x="405.00" y="538.30" font-size="6.20" text-anchor="middle" fill="#222" font-weight="bold" font-style="normal" textLength="4.50" lengthAdjust="spacingAndGlyphs">0</text>
<text x="503.10" y="538.30" font-size="6.20" text-anchor="middle" fill="#222" font-weight="bold" font-style="normal" textLength="4.20" lengthAdjust="spacingAndGlyphs">3</text>
<rect x="83.10" y="590.40" width="23.28" height="14.43" fill="#0ec016"/>
<rect x="105.98" y="590.40" width="23.28" height="14.43" fill="#063837"/>
<rect x="128.86" y="590.40" width="23.28" height="14.43" fill="#063837"/>
<rect x="151.74" y="590.40" width="23.28" height="14.43" fill="#063837"/>
<rect x="174.62" y="590.40" width="23.28" height="14.43" fill="#063837"/>
<rect x="197.50" y="590.40" width="23.28" height="14.43" fill="#063837"/>
<rect x="220.38" y="590.40" width="23.28" height="14.43" fill="#063837"/>
<rect x="243.26" y="590.40" width="23.28" height="14.43" fill="#063837"/>
<rect x="266.14" y="590.40" width="23.28" height="14.43" fill="#063837"/>
<rect x="289.02" y="590.40" width="23.28" height="14.43" fill="#063837"/>
<rect x="311.90" y="590.40" width="23.28" height="14.43" fill="#063837"/>
<rect x="334.78" y="590.40" width="23.28" height="14.43" fill="#063837"/>
<rect x="357.66" y="590.40" width="23.28" height="14.43" fill="#063837"/>
<rect x="380.54" y="590.40" width="23.28" height="14.43" fill="#0fcc15"/>
<rect x="403.42" y="590.40" width="23.28" height="14.43" fill="#086f24"/>
<rect x="426.30" y="590.40" width="23.28" height="14.43" fill="#063837"/>
<rect x="449.18" y="590.40" width="23.28" height="14.43" fill="#063837"/>
<rect x="472.06" y="590.40" width="23.28" height="14.43" fill="#063837"/>
<rect x="494.94" y="590.40" width="23.28" height="14.43" fill="#063837"/>
<rect x="517.82" y="590.40" width="23.28" height="14.43" fill="#063837"/>
<rect x="540.70" y="590.40" width="23.28" height="14.43" fill="#063837"/>
<rect x="563.58" y="590.40" width="23.28" height="14.43" fill="#063837"/>
<rect x="586.46" y="590.40" width="23.28" height="14.43" fill="#063837"/>
<rect x="609.34" y="590.40" width="23.28" height="14.43" fill="#063837"/>
<rect x="632.22" y="590.40" width="23.28" height="14.43" fill="#063837"/>
<rect x="655.10" y="590.40" width="23.28" height="14.43" fill="#063837"/>
<rect x="83.10" y="604.43" width="23.28" height="14.43" fill="#0fcc15"/>
<rect x="105.98" y="604.43" width="23.28" height="14.43" fill="#07542d"/>
<rect x="128.86" y="604.43" width="23.28" height="14.43" fill="#063837"/>
<rect x="151.74" y="604.43" width="23.28" height="14.43" fill="#063837"/>
<rect x="174.62" y="604.43" width="23.28" height="14.43" fill="#063837"/>
<rect x="197.50" y="604.43" width="23.28" height="14.43" fill="#063837"/>
<rect x="220.38" y="604.43" width="23.28" height="14.43" fill="#086428"/>
<rect x="243.26" y="604.43" width="23.28" height="14.43" fill="#063837"/>
<rect x="266.14" y="604.43" width="23.28" height="14.43" fill="#063837"/>
<rect x="289.02" y="604.43" width="23.28" height="14.43" fill="#086826"/>
<rect x="311.90" y="604.43" width="23.28" height="14.43" fill="#063837"/>
<rect x="334.78" y="604.43" width="23.28" height="14.43" fill="#063837"/>
<rect x="357.66" y="604.43" width="23.28" height="14.43" fill="#0a9719"/>
<rect x="380.54" y="604.43" width="23.28" height="14.43" fill="#0fd414"/>
<rect x="403.42" y="604.43" width="23.28" height="14.43" fill="#07542d"/>
<rect x="426.30" y="604.43" width="23.28" height="14.43" fill="#0ba618"/>
<rect x="449.18" y="604.43" width="23.28" height="14.43" fill="#09891b"/>
<rect x="472.06" y="604.43" width="23.28" height="14.43" fill="#063837"/>
<rect x="494.94" y="604.43" width="23.28" height="14.43" fill="#0ec815"/>
<rect x="517.82" y="604.43" width="23.28" height="14.43" fill="#0ec815"/>
<rect x="540.70" y="604.43" width="23.28" height="14.43" fill="#0ba618"/>
<rect x="563.58" y="604.43" width="23.28" height="14.43" fill="#063837"/>
<rect x="586.46" y="604.43" width="23.28" height="14.43" fill="#086f24"/>
<rect x="609.34" y="604.43" width="23.28" height="14.43" fill="#0fd214"/>
<rect x="632.22" y="604.43" width="23.28" height="14.43" fill="#09891b"/>
<rect x="655.10" y="604.43" width="23.28" height="14.43" fill="#087622"/>
<rect x="83.10" y="618.47" width="23.28" height="14.43" fill="#0fd414"/>
<rect x="105.98" y="618.47" width="23.28" height="14.43" fill="#086f24"/>
<rect x="128.86" y="618.47" width="23.28" height="14.43" fill="#086f24"/>
<rect x="151.74" y="618.47" width="23.28" height="14.43" fill="#063837"/>
<rect x="174.62" y="618.47" width="23.28" height="14.43" fill="#086826"/>
<rect x="197.50" y="618.47" width="23.28" height="14.43" fill="#086f24"/>
<rect x="220.38" y="618.47" width="23.28" height="14.43" fill="#075a2b"/>
<rect x="243.26" y="618.47" width="23.28" height="14.43" fill="#0ba618"/>
<rect x="266.14" y="618.47" width="23.28" height="14.43" fill="#0ebe16"/>
<rect x="289.02" y="618.47" width="23.28" height="14.43" fill="#087622"/>
<rect x="311.90" y="618.47" width="23.28" height="14.43" fill="#063837"/>
<rect x="334.78" y="618.47" width="23.28" height="14.43" fill="#086826"/>
<rect x="357.66" y="618.47" width="23.28" height="14.43" fill="#063837"/>
<rect x="380.54" y="618.47" width="23.28" height="14.43" fill="#0fd414"/>
<rect x="403.42" y="618.47" width="23.28" height="14.43" fill="#063837"/>
<rect x="426.30" y="618.47" width="23.28" height="14.43" fill="#063837"/>
<rect x="449.18" y="618.47" width="23.28" height="14.43" fill="#063837"/>
<rect x="472.06" y="618.47" width="23.28" height="14.43" fill="#086826"/>
<rect x="494.94" y="618.47" width="23.28" height="14.43" fill="#063837"/>
<rect x="517.82" y="618.47" width="23.28" height="14.43" fill="#063837"/>
<rect x="540.70" y="618.47" width="23.28" height="14.43" fill="#063837"/>
<rect x="563.58" y="618.47" width="23.28" height="14.43" fill="#063837"/>
<rect x="586.46" y="618.47" width="23.28" height="14.43" fill="#063837"/>
<rect x="609.34" y="618.47" width="23.28" height="14.43" fill="#063837"/>
<rect x="632.22" y="618.47" width="23.28" height="14.43" fill="#063837"/>
<rect x="655.10" y="618.47" width="23.28" height="14.43" fill="#087d1f"/>
<rect x="83.10" y="632.50" width="23.28" height="14.43" fill="#0fd414"/>
<rect x="105.98" y="632.50" width="23.28" height="14.43" fill="#063837"/>
<rect x="128.86" y="632.50" width="23.28" height="14.43" fill="#063837"/>
<rect x="151.74" y="632.50" width="23.28" height="14.43" fill="#063837"/>
<rect x="174.62" y="632.50" width="23.28" height="14.43" fill="#063837"/>
<rect x="197.50" y="632.50" width="23.28" height="14.43" fill="#086f24"/>
<rect x="220.38" y="632.50" width="23.28" height="14.43" fill="#087a20"/>
<rect x="243.26" y="632.50" width="23.28" height="14.43" fill="#063837"/>
<rect x="266.14" y="632.50" width="23.28" height="14.43" fill="#0fd214"/>
<rect x="289.02" y="632.50" width="23.28" height="14.43" fill="#063837"/>
<rect x="311.90" y="632.50" width="23.28" height="14.43" fill="#063837"/>
<rect x="334.78" y="632.50" width="23.28" height="14.43" fill="#063837"/>
<rect x="357.66" y="632.50" width="23.28" height="14.43" fill="#087622"/>
<rect x="380.54" y="632.50" width="23.28" height="14.43" fill="#0fd414"/>
<rect x="403.42" y="632.50" width="23.28" height="14.43" fill="#087622"/>
<rect x="426.30" y="632.50" width="23.28" height="14.43" fill="#063837"/>
<rect x="449.18" y="632.50" width="23.28" height="14.43" fill="#063837"/>
<rect x="472.06" y="632.50" width="23.28" height="14.43" fill="#063837"/>
<rect x="494.94" y="632.50" width="23.28" height="14.43" fill="#063837"/>
<rect x="517.82" y="632.50" width="23.28" height="14.43" fill="#086c25"/>
<rect x="540.70" y="632.50" width="23.28" height="14.43" fill="#063837"/>
<rect x="563.58" y="632.50" width="23.28" height="14.43" fill="#063837"/>
<rect x="586.46" y="632.50" width="23.28" height="14.43" fill="#064632"/>
<rect x="609.34" y="632.50" width="23.28" height="14.43" fill="#063837"/>
<rect x="632.22" y="632.50" width="23.28" height="14.43" fill="#063837"/>
<rect x="655.10" y="632.50" width="23.28" height="14.43" fill="#063837"/>
<rect x="83.10" y="646.53" width="23.28" height="14.43" fill="#0fd414"/>
<rect x="105.98" y="646.53" width="23.28" height="14.43" fill="#063837"/>
<rect x="128.86" y="646.53" width="23.28" height="14.43" fill="#086826"/>
<rect x="151.74" y="646.53" width="23.28" height="14.43" fill="#0db417"/>
<rect x="174.62" y="646.53" width="23.28" height="14.43" fill="#086826"/>
<rect x="197.50" y="646.53" width="23.28" height="14.43" fill="#076129"/>
<rect x="220.38" y="646.53" width="23.28" height="14.43" fill="#086428"/>
<rect x="243.26" y="646.53" width="23.28" height="14.43" fill="#086f24"/>
<rect x="266.14" y="646.53" width="23.28" height="14.43" fill="#086826"/>
<rect x="289.02" y="646.53" width="23.28" height="14.43" fill="#063837"/>
<rect x="311.90" y="646.53" width="23.28" height="14.43" fill="#063837"/>
<rect x="334.78" y="646.53" width="23.28" height="14.43" fill="#063837"/>
<rect x="357.66" y="646.53" width="23.28" height="14.43" fill="#063837"/>
<rect x="380.54" y="646.53" width="23.28" height="14.43" fill="#0fcc15"/>
<rect x="403.42" y="646.53" width="23.28" height="14.43" fill="#063837"/>
<rect x="426.30" y="646.53" width="23.28" height="14.43" fill="#063837"/>
<rect x="449.18" y="646.53" width="23.28" height="14.43" fill="#063837"/>
<rect x="472.06" y="646.53" width="23.28" height="14.43" fill="#063837"/>
<rect x="494.94" y="646.53" width="23.28" height="14.43" fill="#063837"/>
<rect x="517.82" y="646.53" width="23.28" height="14.43" fill="#063837"/>
<rect x="540.70" y="646.53" width="23.28" height="14.43" fill="#063837"/>
<rect x="563.58" y="646.53" width="23.28" height="14.43" fill="#063837"/>
<rect x="586.46" y="646.53" width="23.28" height="14.43" fill="#074d30"/>
<rect x="609.34" y="646.53" width="23.28" height="14.43" fill="#063837"/>
<rect x="632.22" y="646.53" width="23.28" height="14.43" fill="#063837"/>
<rect x="655.10" y="646.53" width="23.28" height="14.43" fill="#063837"/>
<rect x="83.10" y="660.56" width="23.28" height="14.43" fill="#0fd414"/>
<rect x="105.98" y="660.56" width="23.28" height="14.43" fill="#063837"/>
<rect x="128.86" y="660.56" width="23.28" height="14.43" fill="#063837"/>
<rect x="151.74" y="660.56" width="23.28" height="14.43" fill="#074d30"/>
<rect x="174.62" y="660.56" width="23.28" height="14.43" fill="#063837"/>
<rect x="197.50" y="660.56" width="23.28" height="14.43" fill="#063837"/>
<rect x="220.38" y="660.56" width="23.28" height="14.43" fill="#063837"/>
<rect x="243.26" y="660.56" width="23.28" height="14.43" fill="#063837"/>
<rect x="266.14" y="660.56" width="23.28" height="14.43" fill="#063837"/>
<rect x="289.02" y="660.56" width="23.28" height="14.43" fill="#063837"/>
<rect x="311.90" y="660.56" width="23.28" height="14.43" fill="#063837"/>
<rect x="334.78" y="660.56" width="23.28" height="14.43" fill="#063837"/>
<rect x="357.66" y="660.56" width="23.28" height="14.43" fill="#063837"/>
<rect x="380.54" y="660.56" width="23.28" height="14.43" fill="#0dbc16"/>
<rect x="403.42" y="660.56" width="23.28" height="14.43" fill="#063837"/>
<rect x="426.30" y="660.56" width="23.28" height="14.43" fill="#063837"/>
<rect x="449.18" y="660.56" width="23.28" height="14.43" fill="#063837"/>
<rect x="472.06" y="660.56" width="23.28" height="14.43" fill="#063837"/>
<rect x="494.94" y="660.56" width="23.28" height="14.43" fill="#086826"/>
<rect x="517.82" y="660.56" width="23.28" height="14.43" fill="#063837"/>
<rect x="540.70" y="660.56" width="23.28" height="14.43" fill="#063837"/>
<rect x="563.58" y="660.56" width="23.28" height="14.43" fill="#063837"/>
<rect x="586.46" y="660.56" width="23.28" height="14.43" fill="#063837"/>
<rect x="609.34" y="660.56" width="23.28" height="14.43" fill="#063837"/>
<rect x="632.22" y="660.56" width="23.28" height="14.43" fill="#063837"/>
<rect x="655.10" y="660.56" width="23.28" height="14.43" fill="#063837"/>
<rect x="83.10" y="674.60" width="23.28" height="14.43" fill="#0fd414"/>
<rect x="105.98" y="674.60" width="23.28" height="14.43" fill="#063837"/>
<rect x="128.86" y="674.60" width="23.28" height="14.43" fill="#076129"/>
<rect x="151.74" y="674.60" width="23.28" height="14.43" fill="#063837"/>
<rect x="174.62" y="674.60" width="23.28" height="14.43" fill="#063837"/>
<rect x="197.50" y="674.60" width="23.28" height="14.43" fill="#076129"/>
<rect x="220.38" y="674.60" width="23.28" height="14.43" fill="#063837"/>
<rect x="243.26" y="674.60" width="23.28" height="14.43" fill="#063837"/>
<rect x="266.14" y="674.60" width="23.28" height="14.43" fill="#063837"/>
<rect x="289.02" y="674.60" width="23.28" height="14.43" fill="#087622"/>
<rect x="311.90" y="674.60" width="23.28" height="14.43" fill="#063837"/>
<rect x="334.78" y="674.60" width="23.28" height="14.43" fill="#063837"/>
<rect x="357.66" y="674.60" width="23.28" height="14.43" fill="#063837"/>
<rect x="380.54" y="674.60" width="23.28" height="14.43" fill="#0fcc15"/>
<rect x="403.42" y="674.60" width="23.28" height="14.43" fill="#063837"/>
<rect x="426.30" y="674.60" width="23.28" height="14.43" fill="#063837"/>
<rect x="449.18" y="674.60" width="23.28" height="14.43" fill="#063837"/>
<rect x="472.06" y="674.60" width="23.28" height="14.43" fill="#074d30"/>
<rect x="494.94" y="674.60" width="23.28" height="14.43" fill="#086f24"/>
<rect x="517.82" y="674.60" width="23.28" height="14.43" fill="#063837"/>
<rect x="540.70" y="674.60" width="23.28" height="14.43" fill="#063837"/>
<rect x="563.58" y="674.60" width="23.28" height="14.43" fill="#063837"/>
<rect x="586.46" y="674.60" width="23.28" height="14.43" fill="#063837"/>
<rect x="609.34" y="674.60" width="23.28" height="14.43" fill="#063837"/>
<rect x="632.22" y="674.60" width="23.28" height="14.43" fill="#063837"/>
<rect x="655.10" y="674.60" width="23.28" height="14.43" fill="#064632"/>
<rect x="83.10" y="688.63" width="23.28" height="14.43" fill="#0ec815"/>
<rect x="105.98" y="688.63" width="23.28" height="14.43" fill="#063837"/>
<rect x="128.86" y="688.63" width="23.28" height="14.43" fill="#063837"/>
<rect x="151.74" y="688.63" width="23.28" height="14.43" fill="#063837"/>
<rect x="174.62" y="688.63" width="23.28" height="14.43" fill="#063837"/>
<rect x="197.50" y="688.63" width="23.28" height="14.43" fill="#063837"/>
<rect x="220.38" y="688.63" width="23.28" height="14.43" fill="#063837"/>
<rect x="243.26" y="688.63" width="23.28" height="14.43" fill="#063837"/>
<rect x="266.14" y="688.63" width="23.28" height="14.43" fill="#063837"/>
<rect x="289.02" y="688.63" width="23.28" height="14.43" fill="#063837"/>
<rect x="311.90" y="688.63" width="23.28" height="14.43" fill="#063837"/>
<rect x="334.78" y="688.63" width="23.28" height="14.43" fill="#063837"/>
<rect x="357.66" y="688.63" width="23.28" height="14.43" fill="#076129"/>
<rect x="380.54" y="688.63" width="23.28" height="14.43" fill="#0db816"/>
<rect x="403.42" y="688.63" width="23.28" height="14.43" fill="#063837"/>
<rect x="426.30" y="688.63" width="23.28" height="14.43" fill="#063837"/>
<rect x="449.18" y="688.63" width="23.28" height="14.43" fill="#063837"/>
<rect x="472.06" y="688.63" width="23.28" height="14.43" fill="#063837"/>
<rect x="494.94" y="688.63" width="23.28" height="14.43" fill="#063837"/>
<rect x="517.82" y="688.63" width="23.28" height="14.43" fill="#086428"/>
<rect x="540.70" y="688.63" width="23.28" height="14.43" fill="#063837"/>
<rect x="563.58" y="688.63" width="23.28" height="14.43" fill="#086f24"/>
<rect x="586.46" y="688.63" width="23.28" height="14.43" fill="#07542d"/>
<rect x="609.34" y="688.63" width="23.28" height="14.43" fill="#063837"/>
<rect x="632.22" y="688.63" width="23.28" height="14.43" fill="#063837"/>
<rect x="655.10" y="688.63" width="23.28" height="14.43" fill="#063837"/>
<rect x="83.10" y="702.66" width="23.28" height="14.43" fill="#0fd414"/>
<rect x="105.98" y="702.66" width="23.28" height="14.43" fill="#087622"/>
<rect x="128.86" y="702.66" width="23.28" height="14.43" fill="#063837"/>
<rect x="151.74" y="702.66" width="23.28" height="14.43" fill="#063837"/>
<rect x="174.62" y="702.66" width="23.28" height="14.43" fill="#063837"/>
<rect x="197.50" y="702.66" width="23.28" height="14.43" fill="#086826"/>
<rect x="220.38" y="702.66" width="23.28" height="14.43" fill="#063837"/>
<rect x="243.26" y="702.66" width="23.28" height="14.43" fill="#063837"/>
<rect x="266.14" y="702.66" width="23.28" height="14.43" fill="#063837"/>
<rect x="289.02" y="702.66" width="23.28" height="14.43" fill="#086f24"/>
<rect x="311.90" y="702.66" width="23.28" height="14.43" fill="#087622"/>
<rect x="334.78" y="702.66" width="23.28" height="14.43" fill="#063837"/>
<rect x="357.66" y="702.66" width="23.28" height="14.43" fill="#063837"/>
<rect x="380.54" y="702.66" width="23.28" height="14.43" fill="#0ec416"/>
<rect x="403.42" y="702.66" width="23.28" height="14.43" fill="#086826"/>
<rect x="426.30" y="702.66" width="23.28" height="14.43" fill="#063837"/>
<rect x="449.18" y="702.66" width="23.28" height="14.43" fill="#063837"/>
<rect x="472.06" y="702.66" width="23.28" height="14.43" fill="#063837"/>
<rect x="494.94" y="702.66" width="23.28" height="14.43" fill="#086826"/>
<rect x="517.82" y="702.66" width="23.28" height="14.43" fill="#063837"/>
<rect x="540.70" y="702.66" width="23.28" height="14.43" fill="#063837"/>
<rect x="563.58" y="702.66" width="23.28" height="14.43" fill="#063837"/>
<rect x="586.46" y="702.66" width="23.28" height="14.43" fill="#086826"/>
<rect x="609.34" y="702.66" width="23.28" height="14.43" fill="#063837"/>
<rect x="632.22" y="702.66" width="23.28" height="14.43" fill="#063837"/>
<rect x="655.10" y="702.66" width="23.28" height="14.43" fill="#063837"/>
<rect x="83.10" y="716.70" width="23.28" height="14.43" fill="#10dc14"/>
<rect x="105.98" y="716.70" width="23.28" height="14.43" fill="#063837"/>
<rect x="128.86" y="716.70" width="23.28" height="14.43" fill="#063837"/>
<rect x="151.74" y="716.70" width="23.28" height="14.43" fill="#063837"/>
<rect x="174.62" y="716.70" width="23.28" height="14.43" fill="#086826"/>
<rect x="197.50" y="716.70" width="23.28" height="14.43" fill="#07542d"/>
<rect x="220.38" y="716.70" width="23.28" height="14.43" fill="#063837"/>
<rect x="243.26" y="716.70" width="23.28" height="14.43" fill="#063837"/>
<rect x="266.14" y="716.70" width="23.28" height="14.43" fill="#063837"/>
<rect x="289.02" y="716.70" width="23.28" height="14.43" fill="#074d30"/>
<rect x="311.90" y="716.70" width="23.28" height="14.43" fill="#063837"/>
<rect x="334.78" y="716.70" width="23.28" height="14.43" fill="#063837"/>
<rect x="357.66" y="716.70" width="23.28" height="14.43" fill="#063837"/>
<rect x="380.54" y="716.70" width="23.28" height="14.43" fill="#0fd414"/>
<rect x="403.42" y="716.70" width="23.28" height="14.43" fill="#086f24"/>
<rect x="426.30" y="716.70" width="23.28" height="14.43" fill="#063837"/>
<rect x="449.18" y="716.70" width="23.28" height="14.43" fill="#063837"/>
<rect x="472.06" y="716.70" width="23.28" height="14.43" fill="#063837"/>
<rect x="494.94" y="716.70" width="23.28" height="14.43" fill="#087622"/>
<rect x="517.82" y="716.70" width="23.28" height="14.43" fill="#086428"/>
<rect x="540.70" y="716.70" width="23.28" height="14.43" fill="#063837"/>
<rect x="563.58" y="716.70" width="23.28" height="14.43" fill="#063837"/>
<rect x="586.46" y="716.70" width="23.28" height="14.43" fill="#0db417"/>
<rect x="609.34" y="716.70" width="23.28" height="14.43" fill="#086826"/>
<rect x="632.22" y="716.70" width="23.28" height="14.43" fill="#063837"/>
<rect x="655.10" y="716.70" width="23.28" height="14.43" fill="#063837"/>
<rect x="83.10" y="730.73" width="23.28" height="14.43" fill="#11e613"/>
<rect x="105.98" y="730.73" width="23.28" height="14.43" fill="#063837"/>
<rect x="128.86" y="730.73" width="23.28" height="14.43" fill="#063837"/>
<rect x="151.74" y="730.73" width="23.28" height="14.43" fill="#063837"/>
<rect x="174.62" y="730.73" width="23.28" height="14.43" fill="#063837"/>
<rect x="197.50" y="730.73" width="23.28" height="14.43" fill="#086f24"/>
<rect x="220.38" y="730.73" width="23.28" height="14.43" fill="#063837"/>
<rect x="243.26" y="730.73" width="23.28" height="14.43" fill="#074d30"/>
<rect x="266.14" y="730.73" width="23.28" height="14.43" fill="#063837"/>
<rect x="289.02" y="730.73" width="23.28" height="14.43" fill="#087d1f"/>
<rect x="311.90" y="730.73" width="23.28" height="14.43" fill="#063837"/>
<rect x="334.78" y="730.73" width="23.28" height="14.43" fill="#063837"/>
<rect x="357.66" y="730.73" width="23.28" height="14.43" fill="#063837"/>
<rect x="380.54" y="730.73" width="23.28" height="14.43" fill="#0ec416"/>
<rect x="403.42" y="730.73" width="23.28" height="14.43" fill="#063837"/>
<rect x="426.30" y="730.73" width="23.28" height="14.43" fill="#063837"/>
<rect x="449.18" y="730.73" width="23.28" height="14.43" fill="#063837"/>
<rect x="472.06" y="730.73" width="23.28" height="14.43" fill="#063837"/>
<rect x="494.94" y="730.73" width="23.28" height="14.43" fill="#063837"/>
<rect x="517.82" y="730.73" width="23.28" height="14.43" fill="#063837"/>
<rect x="540.70" y="730.73" width="23.28" height="14.43" fill="#063837"/>
<rect x="563.58" y="730.73" width="23.28" height="14.43" fill="#063837"/>
<rect x="586.46" y="730.73" width="23.28" height="14.43" fill="#087d1f"/>
<rect x="609.34" y="730.73" width="23.28" height="14.43" fill="#063837"/>
<rect x="632.22" y="730.73" width="23.28" height="14.43" fill="#063837"/>
<rect x="655.10" y="730.73" width="23.28" height="14.43" fill="#063837"/>
<rect x="83.10" y="744.76" width="23.28" height="14.43" fill="#10dc14"/>
<rect x="105.98" y="744.76" width="23.28" height="14.43" fill="#063837"/>
<rect x="128.86" y="744.76" width="23.28" height="14.43" fill="#063837"/>
<rect x="151.74" y="744.76" width="23.28" height="14.43" fill="#0db417"/>
<rect x="174.62" y="744.76" width="23.28" height="14.43" fill="#0ec815"/>
<rect x="197.50" y="744.76" width="23.28" height="14.43" fill="#076129"/>
<rect x="220.38" y="744.76" width="23.28" height="14.43" fill="#074931"/>
<rect x="243.26" y="744.76" width="23.28" height="14.43" fill="#07542d"/>
<rect x="266.14" y="744.76" width="23.28" height="14.43" fill="#086826"/>
<rect x="289.02" y="744.76" width="23.28" height="14.43" fill="#063837"/>
<rect x="311.90" y="744.76" width="23.28" height="14.43" fill="#063837"/>
<rect x="334.78" y="744.76" width="23.28" height="14.43" fill="#063837"/>
<rect x="357.66" y="744.76" width="23.28" height="14.43" fill="#063837"/>
<rect x="380.54" y="744.76" width="23.28" height="14.43" fill="#0ec416"/>
<rect x="403.42" y="744.76" width="23.28" height="14.43" fill="#063837"/>
<rect x="426.30" y="744.76" width="23.28" height="14.43" fill="#063837"/>
<rect x="449.18" y="744.76" width="23.28" height="14.43" fill="#0cae17"/>
<rect x="472.06" y="744.76" width="23.28" height="14.43" fill="#0dbc16"/>
<rect x="494.94" y="744.76" width="23.28" height="14.43" fill="#075a2b"/>
<rect x="517.82" y="744.76" width="23.28" height="14.43" fill="#063837"/>
<rect x="540.70" y="744.76" width="23.28" height="14.43" fill="#074d30"/>
<rect x="563.58" y="744.76" width="23.28" height="14.43" fill="#075f2a"/>
<rect x="586.46" y="744.76" width="23.28" height="14.43" fill="#063837"/>
<rect x="609.34" y="744.76" width="23.28" height="14.43" fill="#063837"/>
<rect x="632.22" y="744.76" width="23.28" height="14.43" fill="#063837"/>
<rect x="655.10" y="744.76" width="23.28" height="14.43" fill="#063837"/>
<rect x="83.10" y="758.80" width="23.28" height="14.43" fill="#10dc14"/>
<rect x="105.98" y="758.80" width="23.28" height="14.43" fill="#075a2b"/>
<rect x="128.86" y="758.80" width="23.28" height="14.43" fill="#063837"/>
<rect x="151.74" y="758.80" width="23.28" height="14.43" fill="#063837"/>
<rect x="174.62" y="758.80" width="23.28" height="14.43" fill="#063837"/>
<rect x="197.50" y="758.80" width="23.28" height="14.43" fill="#063837"/>
<rect x="220.38" y="758.80" width="23.28" height="14.43" fill="#063837"/>
<rect x="243.26" y="758.80" width="23.28" height="14.43" fill="#063837"/>
<rect x="266.14" y="758.80" width="23.28" height="14.43" fill="#063837"/>
<rect x="289.02" y="758.80" width="23.28" height="14.43" fill="#063837"/>
<rect x="311.90" y="758.80" width="23.28" height="14.43" fill="#063837"/>
<rect x="334.78" y="758.80" width="23.28" height="14.43" fill="#063837"/>
<rect x="357.66" y="758.80" width="23.28" height="14.43" fill="#063837"/>
<rect x="380.54" y="758.80" width="23.28" height="14.43" fill="#0ec416"/>
<rect x="403.42" y="758.80" width="23.28" height="14.43" fill="#063837"/>
<rect x="426.30" y="758.80" width="23.28" height="14.43" fill="#063837"/>
<rect x="449.18" y="758.80" width="23.28" height="14.43" fill="#063837"/>
<rect x="472.06" y="758.80" width="23.28" height="14.43" fill="#063837"/>
<rect x="494.94" y="758.80" width="23.28" height="14.43" fill="#063837"/>
<rect x="517.82" y="758.80" width="23.28" height="14.43" fill="#063837"/>
<rect x="540.70" y="758.80" width="23.28" height="14.43" fill="#063837"/>
<rect x="563.58" y="758.80" width="23.28" height="14.43" fill="#07542d"/>
<rect x="586.46" y="758.80" width="23.28" height="14.43" fill="#087622"/>
<rect x="609.34" y="758.80" width="23.28" height="14.43" fill="#063837"/>
<rect x="632.22" y="758.80" width="23.28" height="14.43" fill="#063837"/>
<rect x="655.10" y="758.80" width="23.28" height="14.43" fill="#063837"/>
<rect x="83.10" y="772.83" width="23.28" height="14.43" fill="#10dc14"/>
<rect x="105.98" y="772.83" width="23.28" height="14.43" fill="#086f24"/>
<rect x="128.86" y="772.83" width="23.28" height="14.43" fill="#063837"/>
<rect x="151.74" y="772.83" width="23.28" height="14.43" fill="#063837"/>
<rect x="174.62" y="772.83" width="23.28" height="14.43" fill="#063837"/>
<rect x="197.50" y="772.83" width="23.28" height="14.43" fill="#063837"/>
<rect x="220.38" y="772.83" width="23.28" height="14.43" fill="#063837"/>
<rect x="243.26" y="772.83" width="23.28" height="14.43" fill="#063837"/>
<rect x="266.14" y="772.83" width="23.28" height="14.43" fill="#063837"/>
<rect x="289.02" y="772.83" width="23.28" height="14.43" fill="#0a9719"/>
<rect x="311.90" y="772.83" width="23.28" height="14.43" fill="#063837"/>
<rect x="334.78" y="772.83" width="23.28" height="14.43" fill="#063837"/>
<rect x="357.66" y="772.83" width="23.28" height="14.43" fill="#063837"/>
<rect x="380.54" y="772.83" width="23.28" height="14.43" fill="#0ec416"/>
<rect x="403.42" y="772.83" width="23.28" height="14.43" fill="#063837"/>
<rect x="426.30" y="772.83" width="23.28" height="14.43" fill="#063837"/>
<rect x="449.18" y="772.83" width="23.28" height="14.43" fill="#063837"/>
<rect x="472.06" y="772.83" width="23.28" height="14.43" fill="#063837"/>
<rect x="494.94" y="772.83" width="23.28" height="14.43" fill="#087622"/>
<rect x="517.82" y="772.83" width="23.28" height="14.43" fill="#063837"/>
<rect x="540.70" y="772.83" width="23.28" height="14.43" fill="#063837"/>
<rect x="563.58" y="772.83" width="23.28" height="14.43" fill="#063837"/>
<rect x="586.46" y="772.83" width="23.28" height="14.43" fill="#087622"/>
<rect x="609.34" y="772.83" width="23.28" height="14.43" fill="#063837"/>
<rect x="632.22" y="772.83" width="23.28" height="14.43" fill="#063837"/>
<rect x="655.10" y="772.83" width="23.28" height="14.43" fill="#063837"/>
<rect x="83.10" y="786.86" width="23.28" height="14.43" fill="#0fd414"/>
<rect x="105.98" y="786.86" width="23.28" height="14.43" fill="#063837"/>
<rect x="128.86" y="786.86" width="23.28" height="14.43" fill="#063837"/>
<rect x="151.74" y="786.86" width="23.28" height="14.43" fill="#063837"/>
<rect x="174.62" y="786.86" width="23.28" height="14.43" fill="#063837"/>
<rect x="197.50" y="786.86" width="23.28" height="14.43" fill="#063837"/>
<rect x="220.38" y="786.86" width="23.28" height="14.43" fill="#063837"/>
<rect x="243.26" y="786.86" width="23.28" height="14.43" fill="#063837"/>
<rect x="266.14" y="786.86" width="23.28" height="14.43" fill="#087d1f"/>
<rect x="289.02" y="786.86" width="23.28" height="14.43" fill="#07542d"/>
<rect x="311.90" y="786.86" width="23.28" height="14.43" fill="#063837"/>
<rect x="334.78" y="786.86" width="23.28" height="14.43" fill="#063837"/>
<rect x="357.66" y="786.86" width="23.28" height="14.43" fill="#063837"/>
<rect x="380.54" y="786.86" width="23.28" height="14.43" fill="#0ca818"/>
<rect x="403.42" y="786.86" width="23.28" height="14.43" fill="#087a20"/>
<rect x="426.30" y="786.86" width="23.28" height="14.43" fill="#0ec016"/>
<rect x="449.18" y="786.86" width="23.28" height="14.43" fill="#063837"/>
<rect x="472.06" y="786.86" width="23.28" height="14.43" fill="#063837"/>
<rect x="494.94" y="786.86" width="23.28" height="14.43" fill="#0ec016"/>
<rect x="517.82" y="786.86" width="23.28" height="14.43" fill="#0fcc15"/>
<rect x="540.70" y="786.86" width="23.28" height="14.43" fill="#063837"/>
<rect x="563.58" y="786.86" width="23.28" height="14.43" fill="#063837"/>
<rect x="586.46" y="786.86" width="23.28" height="14.43" fill="#087d1f"/>
<rect x="609.34" y="786.86" width="23.28" height="14.43" fill="#087622"/>
<rect x="632.22" y="786.86" width="23.28" height="14.43" fill="#063837"/>
<rect x="655.10" y="786.86" width="23.28" height="14.43" fill="#0b9d19"/>
<path d="M83.3 590.6L106.2 590.6M106.2 590.6L129.1 590.6M129.1 590.6L151.9 590.6M151.9 590.6L174.8 590.6M174.8 590.6L197.7 590.6M197.7 590.6L220.6 590.6M220.6 590.6L243.5 590.6M243.5 590.6L266.3 590.6M266.3 590.6L289.2 590.6M289.2 590.6L312.1 590.6M312.1 590.6L335.0 590.6M335.0 590.6L357.9 590.6M357.9 590.6L380.7 590.6M380.7 590.6L403.6 590.6M403.6 590.6L426.5 590.6M426.5 590.6L449.4 590.6M449.4 590.6L472.3 590.6M472.3 590.6L495.1 590.6M495.1 590.6L518.0 590.6M518.0 590.6L540.9 590.6M540.9 590.6L563.8 590.6M563.8 590.6L586.7 590.6M586.7 590.6L609.5 590.6M609.5 590.6L632.4 590.6M632.4 590.6L655.3 590.6M655.3 590.6L678.2 590.6M83.3 801.1L106.2 801.1M106.2 801.1L129.1 801.1M129.1 801.1L151.9 801.1M151.9 801.1L174.8 801.1M174.8 801.1L197.7 801.1M197.7 801.1L220.6 801.1M220.6 801.1L243.5 801.1M243.5 801.1L266.3 801.1M266.3 801.1L289.2 801.1M289.2 801.1L312.1 801.1M312.1 801.1L335.0 801.1M335.0 801.1L357.9 801.1M357.9 801.1L380.7 801.1M380.7 801.1L403.6 801.1M403.6 801.1L426.5 801.1M426.5 801.1L449.4 801.1M449.4 801.1L472.3 801.1M472.3 801.1L495.1 801.1M495.1 801.1L518.0 801.1M518.0 801.1L540.9 801.1M540.9 801.1L563.8 801.1M563.8 801.1L586.7 801.1M586.7 801.1L609.5 801.1M609.5 801.1L632.4 801.1M632.4 801.1L655.3 801.1M655.3 801.1L678.2 801.1M83.3 590.6L83.3 604.6M83.3 604.6L83.3 618.7M83.3 618.7L83.3 632.7M83.3 632.7L83.3 646.7M83.3 646.7L83.3 660.8M83.3 660.8L83.3 674.8M83.3 674.8L83.3 688.8M83.3 688.8L83.3 702.9M83.3 702.9L83.3 716.9M83.3 716.9L83.3 730.9M83.3 730.9L83.3 745.0M83.3 745.0L83.3 759.0M83.3 759.0L83.3 773.0M83.3 773.0L83.3 787.1M83.3 787.1L83.3 801.1M678.2 590.6L678.2 604.6M678.2 604.6L678.2 618.7M678.2 618.7L678.2 632.7M678.2 632.7L678.2 646.7M678.2 646.7L678.2 660.8M678.2 660.8L678.2 674.8M678.2 674.8L678.2 688.8M678.2 688.8L678.2 702.9M678.2 702.9L678.2 716.9M678.2 716.9L678.2 730.9M678.2 730.9L678.2 745.0M678.2 745.0L678.2 759.0M678.2 759.0L678.2 773.0M678.2 773.0L678.2 787.1M678.2 787.1L678.2 801.1" stroke="#fff" stroke-opacity="1.00" stroke-width="1.30" fill="none"/>
<path d="M83.3 604.6L106.2 604.6M380.7 660.8L403.6 660.8M380.7 674.8L403.6 674.8M380.7 688.8L403.6 688.8M380.7 702.9L403.6 702.9M380.7 745.0L403.6 745.0M380.7 759.0L403.6 759.0M380.7 773.0L403.6 773.0M380.7 787.1L403.6 787.1" stroke="#fff" stroke-opacity="0.55" stroke-width="1.30" fill="none"/>
<path d="M106.2 604.6L129.1 604.6M220.6 604.6L243.5 604.6M289.2 604.6L312.1 604.6M586.7 604.6L609.5 604.6M129.1 618.7L151.9 618.7M174.8 618.7L197.7 618.7M197.7 618.7L220.6 618.7M335.0 618.7L357.9 618.7M403.6 618.7L426.5 618.7M472.3 618.7L495.1 618.7M586.7 618.7L609.5 618.7M106.2 632.7L129.1 632.7M129.1 632.7L151.9 632.7M174.8 632.7L197.7 632.7M335.0 632.7L357.9 632.7M472.3 632.7L495.1 632.7M518.0 632.7L540.9 632.7M129.1 646.7L151.9 646.7M174.8 646.7L197.7 646.7M243.5 646.7L266.3 646.7M518.0 646.7L540.9 646.7M586.7 646.7L609.5 646.7M129.1 660.8L151.9 660.8M174.8 660.8L197.7 660.8M197.7 660.8L220.6 660.8M220.6 660.8L243.5 660.8M243.5 660.8L266.3 660.8M266.3 660.8L289.2 660.8M495.1 660.8L518.0 660.8M129.1 674.8L151.9 674.8M197.7 674.8L220.6 674.8M129.1 688.8L151.9 688.8M197.7 688.8L220.6 688.8M357.9 688.8L380.7 688.8M495.1 688.8L518.0 688.8M518.0 688.8L540.9 688.8M563.8 688.8L586.7 688.8M586.7 688.8L609.5 688.8M197.7 702.9L220.6 702.9M289.2 702.9L312.1 702.9M357.9 702.9L380.7 702.9M403.6 702.9L426.5 702.9M495.1 702.9L518.0 702.9M518.0 702.9L540.9 702.9M563.8 702.9L586.7 702.9M174.8 716.9L197.7 716.9M518.0 716.9L540.9 716.9M609.5 716.9L632.4 716.9M174.8 730.9L197.7 730.9M403.6 730.9L426.5 730.9M518.0 730.9L540.9 730.9M609.5 730.9L632.4 730.9M243.5 745.0L266.3 745.0M266.3 745.0L289.2 745.0M495.1 745.0L518.0 745.0M563.8 745.0L586.7 745.0M106.2 759.0L129.1 759.0M197.7 759.0L220.6 759.0M243.5 759.0L266.3 759.0M266.3 759.0L289.2 759.0M495.1 759.0L518.0 759.0M563.8 773.0L586.7 773.0M106.2 787.1L129.1 787.1M106.2 590.6L106.2 604.6M106.2 688.8L106.2 702.9M129.1 618.7L129.1 632.7M151.9 745.0L151.9 759.0M197.7 618.7L197.7 632.7M197.7 646.7L197.7 660.8M197.7 716.9L197.7 730.9M220.6 618.7L220.6 632.7M220.6 646.7L220.6 660.8M243.5 646.7L243.5 660.8M266.3 646.7L266.3 660.8M266.3 745.0L266.3 759.0M266.3 787.1L266.3 801.1M289.2 730.9L289.2 745.0M289.2 773.0L289.2 787.1M289.2 787.1L289.2 801.1M312.1 730.9L312.1 745.0M312.1 773.0L312.1 787.1M357.9 604.6L357.9 618.7M380.7 590.6L380.7 604.6M380.7 646.7L380.7 660.8M380.7 660.8L380.7 674.8M380.7 674.8L380.7 688.8M380.7 702.9L380.7 716.9M380.7 730.9L380.7 745.0M380.7 745.0L380.7 759.0M380.7 759.0L380.7 773.0M380.7 773.0L380.7 787.1M380.7 787.1L380.7 801.1M403.6 646.7L403.6 660.8M403.6 660.8L403.6 674.8M403.6 674.8L403.6 688.8M403.6 688.8L403.6 702.9M403.6 730.9L403.6 745.0M403.6 745.0L403.6 759.0M403.6 759.0L403.6 773.0M403.6 773.0L403.6 787.1M449.4 745.0L449.4 759.0M449.4 787.1L449.4 801.1M472.3 604.6L472.3 618.7M495.1 604.6L495.1 618.7M495.1 674.8L495.1 688.8M495.1 787.1L495.1 801.1M518.0 716.9L518.0 730.9M540.9 787.1L540.9 801.1M563.8 604.6L563.8 618.7M586.7 688.8L586.7 702.9M586.7 716.9L586.7 730.9M586.7 730.9L586.7 745.0M586.7 759.0L586.7 773.0M586.7 787.1L586.7 801.1M609.5 730.9L609.5 745.0M655.3 618.7L655.3 632.7M655.3 787.1L655.3 801.1" stroke="#fff" stroke-opacity="0.80" stroke-width="1.30" fill="none"/>
<path d="M129.1 604.6L151.9 604.6M151.9 604.6L174.8 604.6M174.8 604.6L197.7 604.6M197.7 604.6L220.6 604.6M243.5 604.6L266.3 604.6M266.3 604.6L289.2 604.6M312.1 604.6L335.0 604.6M335.0 604.6L357.9 604.6M472.3 604.6L495.1 604.6M563.8 604.6L586.7 604.6M151.9 618.7L174.8 618.7M312.1 618.7L335.0 618.7M563.8 618.7L586.7 618.7M151.9 632.7L174.8 632.7M312.1 632.7L335.0 632.7M426.5 632.7L449.4 632.7M449.4 632.7L472.3 632.7M495.1 632.7L518.0 632.7M540.9 632.7L563.8 632.7M563.8 632.7L586.7 632.7M586.7 632.7L609.5 632.7M609.5 632.7L632.4 632.7M632.4 632.7L655.3 632.7M106.2 646.7L129.1 646.7M289.2 646.7L312.1 646.7M312.1 646.7L335.0 646.7M335.0 646.7L357.9 646.7M426.5 646.7L449.4 646.7M449.4 646.7L472.3 646.7M472.3 646.7L495.1 646.7M495.1 646.7L518.0 646.7M540.9 646.7L563.8 646.7M563.8 646.7L586.7 646.7M609.5 646.7L632.4 646.7M632.4 646.7L655.3 646.7M655.3 646.7L678.2 646.7M106.2 660.8L129.1 660.8M289.2 660.8L312.1 660.8M312.1 660.8L335.0 660.8M335.0 660.8L357.9 660.8M357.9 660.8L380.7 660.8M403.6 660.8L426.5 660.8M426.5 660.8L449.4 660.8M449.4 660.8L472.3 660.8M472.3 660.8L495.1 660.8M518.0 660.8L540.9 660.8M540.9 660.8L563.8 660.8M563.8 660.8L586.7 660.8M586.7 660.8L609.5 660.8M609.5 660.8L632.4 660.8M632.4 660.8L655.3 660.8M655.3 660.8L678.2 660.8M106.2 674.8L129.1 674.8M151.9 674.8L174.8 674.8M174.8 674.8L197.7 674.8M220.6 674.8L243.5 674.8M243.5 674.8L266.3 674.8M266.3 674.8L289.2 674.8M312.1 674.8L335.0 674.8M335.0 674.8L357.9 674.8M357.9 674.8L380.7 674.8M403.6 674.8L426.5 674.8M426.5 674.8L449.4 674.8M449.4 674.8L472.3 674.8M472.3 674.8L495.1 674.8M518.0 674.8L540.9 674.8M540.9 674.8L563.8 674.8M563.8 674.8L586.7 674.8M586.7 674.8L609.5 674.8M609.5 674.8L632.4 674.8M632.4 674.8L655.3 674.8M655.3 674.8L678.2 674.8M106.2 688.8L129.1 688.8M151.9 688.8L174.8 688.8M174.8 688.8L197.7 688.8M220.6 688.8L243.5 688.8M243.5 688.8L266.3 688.8M266.3 688.8L289.2 688.8M312.1 688.8L335.0 688.8M335.0 688.8L357.9 688.8M403.6 688.8L426.5 688.8M426.5 688.8L449.4 688.8M449.4 688.8L472.3 688.8M472.3 688.8L495.1 688.8M540.9 688.8L563.8 688.8M609.5 688.8L632.4 688.8M632.4 688.8L655.3 688.8M655.3 688.8L678.2 688.8M129.1 702.9L151.9 702.9M151.9 702.9L174.8 702.9M174.8 702.9L197.7 702.9M220.6 702.9L243.5 702.9M243.5 702.9L266.3 702.9M266.3 702.9L289.2 702.9M335.0 702.9L357.9 702.9M426.5 702.9L449.4 702.9M449.4 702.9L472.3 702.9M472.3 702.9L495.1 702.9M540.9 702.9L563.8 702.9M609.5 702.9L632.4 702.9M632.4 702.9L655.3 702.9M655.3 702.9L678.2 702.9M129.1 716.9L151.9 716.9M151.9 716.9L174.8 716.9M220.6 716.9L243.5 716.9M243.5 716.9L266.3 716.9M266.3 716.9L289.2 716.9M335.0 716.9L357.9 716.9M357.9 716.9L380.7 716.9M426.5 716.9L449.4 716.9M449.4 716.9L472.3 716.9M472.3 716.9L495.1 716.9M540.9 716.9L563.8 716.9M563.8 716.9L586.7 716.9M632.4 716.9L655.3 716.9M655.3 716.9L678.2 716.9M106.2 730.9L129.1 730.9M129.1 730.9L151.9 730.9M151.9 730.9L174.8 730.9M220.6 730.9L243.5 730.9M243.5 730.9L266.3 730.9M266.3 730.9L289.2 730.9M312.1 730.9L335.0 730.9M335.0 730.9L357.9 730.9M357.9 730.9L380.7 730.9M426.5 730.9L449.4 730.9M449.4 730.9L472.3 730.9M472.3 730.9L495.1 730.9M540.9 730.9L563.8 730.9M563.8 730.9L586.7 730.9M632.4 730.9L655.3 730.9M655.3 730.9L678.2 730.9M106.2 745.0L129.1 745.0M129.1 745.0L151.9 745.0M220.6 745.0L243.5 745.0M312.1 745.0L335.0 745.0M335.0 745.0L357.9 745.0M357.9 745.0L380.7 745.0M403.6 745.0L426.5 745.0M426.5 745.0L449.4 745.0M518.0 745.0L540.9 745.0M540.9 745.0L563.8 745.0M609.5 745.0L632.4 745.0M632.4 745.0L655.3 745.0M655.3 745.0L678.2 745.0M129.1 759.0L151.9 759.0M220.6 759.0L243.5 759.0M289.2 759.0L312.1 759.0M312.1 759.0L335.0 759.0M335.0 759.0L357.9 759.0M357.9 759.0L380.7 759.0M403.6 759.0L426.5 759.0M426.5 759.0L449.4 759.0M518.0 759.0L540.9 759.0M540.9 759.0L563.8 759.0M609.5 759.0L632.4 759.0M632.4 759.0L655.3 759.0M655.3 759.0L678.2 759.0M129.1 773.0L151.9 773.0M151.9 773.0L174.8 773.0M174.8 773.0L197.7 773.0M197.7 773.0L220.6 773.0M220.6 773.0L243.5 773.0M243.5 773.0L266.3 773.0M266.3 773.0L289.2 773.0M312.1 773.0L335.0 773.0M335.0 773.0L357.9 773.0M357.9 773.0L380.7 773.0M403.6 773.0L426.5 773.0M426.5 773.0L449.4 773.0M449.4 773.0L472.3 773.0M472.3 773.0L495.1 773.0M518.0 773.0L540.9 773.0M540.9 773.0L563.8 773.0M609.5 773.0L632.4 773.0M632.4 773.0L655.3 773.0M655.3 773.0L678.2 773.0M129.1 787.1L151.9 787.1M151.9 787.1L174.8 787.1M174.8 787.1L197.7 787.1M197.7 787.1L220.6 787.1M220.6 787.1L243.5 787.1M243.5 787.1L266.3 787.1M312.1 787.1L335.0 787.1M335.0 787.1L357.9 787.1M357.9 787.1L380.7 787.1M449.4 787.1L472.3 787.1M472.3 787.1L495.1 787.1M540.9 787.1L563.8 787.1M563.8 787.1L586.7 787.1M632.4 787.1L655.3 787.1M129.1 604.6L129.1 618.7M129.1 646.7L129.1 660.8M129.1 674.8L129.1 688.8M129.1 702.9L129.1 716.9M129.1 759.0L129.1 773.0M129.1 773.0L129.1 787.1M151.9 618.7L151.9 632.7M151.9 674.8L151.9 688.8M174.8 618.7L174.8 632.7M174.8 716.9L174.8 730.9M197.7 632.7L197.7 646.7M197.7 674.8L197.7 688.8M197.7 702.9L197.7 716.9M197.7 730.9L197.7 745.0M220.6 604.6L220.6 618.7M220.6 674.8L220.6 688.8M220.6 702.9L220.6 716.9M220.6 716.9L220.6 730.9M220.6 730.9L220.6 745.0M220.6 745.0L220.6 759.0M243.5 604.6L243.5 618.7M243.5 632.7L243.5 646.7M243.5 745.0L243.5 759.0M289.2 604.6L289.2 618.7M289.2 646.7L289.2 660.8M289.2 674.8L289.2 688.8M289.2 702.9L289.2 716.9M289.2 745.0L289.2 759.0M312.1 604.6L312.1 618.7M312.1 618.7L312.1 632.7M312.1 674.8L312.1 688.8M312.1 787.1L312.1 801.1M335.0 618.7L335.0 632.7M335.0 702.9L335.0 716.9M357.9 618.7L357.9 632.7M357.9 632.7L357.9 646.7M357.9 688.8L357.9 702.9M426.5 590.6L426.5 604.6M426.5 632.7L426.5 646.7M426.5 702.9L426.5 716.9M426.5 716.9L426.5 730.9M472.3 618.7L472.3 632.7M495.1 618.7L495.1 632.7M495.1 660.8L495.1 674.8M495.1 702.9L495.1 716.9M495.1 716.9L495.1 730.9M495.1 773.0L495.1 787.1M518.0 632.7L518.0 646.7M518.0 660.8L518.0 674.8M518.0 674.8L518.0 688.8M518.0 688.8L518.0 702.9M518.0 702.9L518.0 716.9M518.0 745.0L518.0 759.0M518.0 773.0L518.0 787.1M540.9 632.7L540.9 646.7M540.9 688.8L540.9 702.9M540.9 716.9L540.9 730.9M563.8 688.8L563.8 702.9M563.8 745.0L563.8 759.0M563.8 759.0L563.8 773.0M586.7 604.6L586.7 618.7M586.7 702.9L586.7 716.9M586.7 745.0L586.7 759.0M586.7 773.0L586.7 787.1M609.5 688.8L609.5 702.9M609.5 702.9L609.5 716.9M609.5 759.0L609.5 773.0M609.5 773.0L609.5 787.1M632.4 716.9L632.4 730.9M632.4 787.1L632.4 801.1" stroke="#fff" stroke-opacity="0.85" stroke-width="1.30" fill="none"/>
<path d="M357.9 604.6L380.7 604.6M403.6 604.6L426.5 604.6M449.4 604.6L472.3 604.6M632.4 604.6L655.3 604.6M655.3 604.6L678.2 604.6M106.2 618.7L129.1 618.7M220.6 618.7L243.5 618.7M357.9 618.7L380.7 618.7M449.4 618.7L472.3 618.7M632.4 618.7L655.3 618.7M289.2 632.7L312.1 632.7M357.9 632.7L380.7 632.7M403.6 632.7L426.5 632.7M655.3 632.7L678.2 632.7M357.9 646.7L380.7 646.7M403.6 646.7L426.5 646.7M289.2 674.8L312.1 674.8M289.2 688.8L312.1 688.8M106.2 702.9L129.1 702.9M312.1 702.9L335.0 702.9M586.7 702.9L609.5 702.9M106.2 716.9L129.1 716.9M197.7 716.9L220.6 716.9M289.2 716.9L312.1 716.9M312.1 716.9L335.0 716.9M197.7 730.9L220.6 730.9M495.1 730.9L518.0 730.9M289.2 745.0L312.1 745.0M586.7 745.0L609.5 745.0M563.8 759.0L586.7 759.0M586.7 759.0L609.5 759.0M289.2 773.0L312.1 773.0M495.1 773.0L518.0 773.0M266.3 787.1L289.2 787.1M403.6 787.1L426.5 787.1M609.5 787.1L632.4 787.1M655.3 787.1L678.2 787.1M106.2 604.6L106.2 618.7M106.2 632.7L106.2 646.7M106.2 646.7L106.2 660.8M106.2 660.8L106.2 674.8M106.2 674.8L106.2 688.8M106.2 716.9L106.2 730.9M106.2 730.9L106.2 745.0M106.2 745.0L106.2 759.0M106.2 759.0L106.2 773.0M106.2 787.1L106.2 801.1M151.9 646.7L151.9 660.8M174.8 646.7L174.8 660.8M197.7 745.0L197.7 759.0M220.6 632.7L220.6 646.7M243.5 618.7L243.5 632.7M266.3 632.7L266.3 646.7M289.2 632.7L289.2 646.7M312.1 702.9L312.1 716.9M380.7 618.7L380.7 632.7M380.7 688.8L380.7 702.9M380.7 716.9L380.7 730.9M403.6 604.6L403.6 618.7M403.6 618.7L403.6 632.7M403.6 702.9L403.6 716.9M403.6 787.1L403.6 801.1M426.5 604.6L426.5 618.7M495.1 745.0L495.1 759.0M609.5 716.9L609.5 730.9M609.5 787.1L609.5 801.1M655.3 604.6L655.3 618.7" stroke="#fff" stroke-opacity="0.75" stroke-width="1.30" fill="none"/>
<path d="M380.7 604.6L403.6 604.6M83.3 618.7L106.2 618.7M380.7 618.7L403.6 618.7M83.3 632.7L106.2 632.7M266.3 632.7L289.2 632.7M380.7 632.7L403.6 632.7M83.3 646.7L106.2 646.7M380.7 646.7L403.6 646.7M83.3 660.8L106.2 660.8M83.3 674.8L106.2 674.8M83.3 688.8L106.2 688.8M83.3 702.9L106.2 702.9M83.3 716.9L106.2 716.9M380.7 716.9L403.6 716.9M380.7 730.9L403.6 730.9M83.3 759.0L106.2 759.0M83.3 773.0L106.2 773.0M83.3 787.1L106.2 787.1" stroke="#fff" stroke-opacity="0.50" stroke-width="1.30" fill="none"/>
<path d="M426.5 604.6L449.4 604.6M495.1 604.6L518.0 604.6M518.0 604.6L540.9 604.6M540.9 604.6L563.8 604.6M609.5 604.6L632.4 604.6M243.5 618.7L266.3 618.7M266.3 618.7L289.2 618.7M289.2 618.7L312.1 618.7M426.5 618.7L449.4 618.7M495.1 618.7L518.0 618.7M518.0 618.7L540.9 618.7M540.9 618.7L563.8 618.7M609.5 618.7L632.4 618.7M197.7 632.7L220.6 632.7M220.6 632.7L243.5 632.7M243.5 632.7L266.3 632.7M151.9 646.7L174.8 646.7M197.7 646.7L220.6 646.7M220.6 646.7L243.5 646.7M151.9 660.8L174.8 660.8M495.1 674.8L518.0 674.8M403.6 716.9L426.5 716.9M495.1 716.9L518.0 716.9M289.2 730.9L312.1 730.9M151.9 745.0L174.8 745.0M174.8 745.0L197.7 745.0M197.7 745.0L220.6 745.0M449.4 745.0L472.3 745.0M472.3 745.0L495.1 745.0M151.9 759.0L174.8 759.0M174.8 759.0L197.7 759.0M449.4 759.0L472.3 759.0M472.3 759.0L495.1 759.0M106.2 773.0L129.1 773.0M289.2 787.1L312.1 787.1M426.5 787.1L449.4 787.1M518.0 787.1L540.9 787.1M106.2 618.7L106.2 632.7M106.2 702.9L106.2 716.9M106.2 773.0L106.2 787.1M174.8 745.0L174.8 759.0M266.3 618.7L266.3 632.7M289.2 618.7L289.2 632.7M380.7 604.6L380.7 618.7M380.7 632.7L380.7 646.7M403.6 590.6L403.6 604.6M403.6 632.7L403.6 646.7M403.6 716.9L403.6 730.9M426.5 787.1L426.5 801.1M449.4 604.6L449.4 618.7M472.3 745.0L472.3 759.0M540.9 604.6L540.9 618.7M609.5 604.6L609.5 618.7M632.4 604.6L632.4 618.7" stroke="#fff" stroke-opacity="0.70" stroke-width="1.30" fill="none"/>
<path d="M655.3 618.7L678.2 618.7M586.7 716.9L609.5 716.9M586.7 773.0L609.5 773.0M586.7 787.1L609.5 787.1M518.0 604.6L518.0 618.7M518.0 787.1L518.0 801.1" stroke="#fff" stroke-opacity="0.65" stroke-width="1.30" fill="none"/>
<path d="M266.3 646.7L289.2 646.7M586.7 730.9L609.5 730.9M495.1 787.1L518.0 787.1" stroke="#fff" stroke-opacity="0.60" stroke-width="1.30" fill="none"/>
<path d="M83.3 730.9L106.2 730.9M83.3 745.0L106.2 745.0" stroke="#fff" stroke-opacity="0.45" stroke-width="1.30" fill="none"/>
<path d="M129.1 590.6L129.1 604.6M129.1 632.7L129.1 646.7M129.1 660.8L129.1 674.8M129.1 688.8L129.1 702.9M129.1 716.9L129.1 730.9M129.1 730.9L129.1 745.0M129.1 745.0L129.1 759.0M129.1 787.1L129.1 801.1M151.9 590.6L151.9 604.6M151.9 604.6L151.9 618.7M151.9 632.7L151.9 646.7M151.9 660.8L151.9 674.8M151.9 688.8L151.9 702.9M151.9 702.9L151.9 716.9M151.9 716.9L151.9 730.9M151.9 730.9L151.9 745.0M151.9 759.0L151.9 773.0M151.9 773.0L151.9 787.1M151.9 787.1L151.9 801.1M174.8 590.6L174.8 604.6M174.8 604.6L174.8 618.7M174.8 632.7L174.8 646.7M174.8 660.8L174.8 674.8M174.8 674.8L174.8 688.8M174.8 688.8L174.8 702.9M174.8 702.9L174.8 716.9M174.8 730.9L174.8 745.0M174.8 759.0L174.8 773.0M174.8 773.0L174.8 787.1M174.8 787.1L174.8 801.1M197.7 590.6L197.7 604.6M197.7 604.6L197.7 618.7M197.7 660.8L197.7 674.8M197.7 688.8L197.7 702.9M197.7 759.0L197.7 773.0M197.7 773.0L197.7 787.1M197.7 787.1L197.7 801.1M220.6 590.6L220.6 604.6M220.6 660.8L220.6 674.8M220.6 688.8L220.6 702.9M220.6 759.0L220.6 773.0M220.6 773.0L220.6 787.1M220.6 787.1L220.6 801.1M243.5 590.6L243.5 604.6M243.5 660.8L243.5 674.8M243.5 674.8L243.5 688.8M243.5 688.8L243.5 702.9M243.5 702.9L243.5 716.9M243.5 716.9L243.5 730.9M243.5 730.9L243.5 745.0M243.5 759.0L243.5 773.0M243.5 773.0L243.5 787.1M243.5 787.1L243.5 801.1M266.3 590.6L266.3 604.6M266.3 604.6L266.3 618.7M266.3 660.8L266.3 674.8M266.3 674.8L266.3 688.8M266.3 688.8L266.3 702.9M266.3 702.9L266.3 716.9M266.3 716.9L266.3 730.9M266.3 730.9L266.3 745.0M266.3 759.0L266.3 773.0M266.3 773.0L266.3 787.1M289.2 590.6L289.2 604.6M289.2 660.8L289.2 674.8M289.2 688.8L289.2 702.9M289.2 716.9L289.2 730.9M289.2 759.0L289.2 773.0M312.1 590.6L312.1 604.6M312.1 632.7L312.1 646.7M312.1 646.7L312.1 660.8M312.1 660.8L312.1 674.8M312.1 688.8L312.1 702.9M312.1 716.9L312.1 730.9M312.1 745.0L312.1 759.0M312.1 759.0L312.1 773.0M335.0 590.6L335.0 604.6M335.0 604.6L335.0 618.7M335.0 632.7L335.0 646.7M335.0 646.7L335.0 660.8M335.0 660.8L335.0 674.8M335.0 674.8L335.0 688.8M335.0 688.8L335.0 702.9M335.0 716.9L335.0 730.9M335.0 730.9L335.0 745.0M335.0 745.0L335.0 759.0M335.0 759.0L335.0 773.0M335.0 773.0L335.0 787.1M335.0 787.1L335.0 801.1M357.9 590.6L357.9 604.6M357.9 646.7L357.9 660.8M357.9 660.8L357.9 674.8M357.9 674.8L357.9 688.8M357.9 702.9L357.9 716.9M357.9 716.9L357.9 730.9M357.9 730.9L357.9 745.0M357.9 745.0L357.9 759.0M357.9 759.0L357.9 773.0M357.9 773.0L357.9 787.1M357.9 787.1L357.9 801.1M426.5 618.7L426.5 632.7M426.5 646.7L426.5 660.8M426.5 660.8L426.5 674.8M426.5 674.8L426.5 688.8M426.5 688.8L426.5 702.9M426.5 730.9L426.5 745.0M426.5 745.0L426.5 759.0M426.5 759.0L426.5 773.0M426.5 773.0L426.5 787.1M449.4 590.6L449.4 604.6M449.4 618.7L449.4 632.7M449.4 632.7L449.4 646.7M449.4 646.7L449.4 660.8M449.4 660.8L449.4 674.8M449.4 674.8L449.4 688.8M449.4 688.8L449.4 702.9M449.4 702.9L449.4 716.9M449.4 716.9L449.4 730.9M449.4 730.9L449.4 745.0M449.4 759.0L449.4 773.0M449.4 773.0L449.4 787.1M472.3 590.6L472.3 604.6M472.3 632.7L472.3 646.7M472.3 646.7L472.3 660.8M472.3 660.8L472.3 674.8M472.3 674.8L472.3 688.8M472.3 688.8L472.3 702.9M472.3 702.9L472.3 716.9M472.3 716.9L472.3 730.9M472.3 730.9L472.3 745.0M472.3 759.0L472.3 773.0M472.3 773.0L472.3 787.1M472.3 787.1L472.3 801.1M495.1 590.6L495.1 604.6M495.1 632.7L495.1 646.7M495.1 646.7L495.1 660.8M495.1 688.8L495.1 702.9M495.1 730.9L495.1 745.0M495.1 759.0L495.1 773.0M518.0 590.6L518.0 604.6M518.0 618.7L518.0 632.7M518.0 646.7L518.0 660.8M518.0 730.9L518.0 745.0M518.0 759.0L518.0 773.0M540.9 590.6L540.9 604.6M540.9 618.7L540.9 632.7M540.9 646.7L540.9 660.8M540.9 660.8L540.9 674.8M540.9 674.8L540.9 688.8M540.9 702.9L540.9 716.9M540.9 730.9L540.9 745.0M540.9 745.0L540.9 759.0M540.9 759.0L540.9 773.0M540.9 773.0L540.9 787.1M563.8 590.6L563.8 604.6M563.8 618.7L563.8 632.7M563.8 632.7L563.8 646.7M563.8 646.7L563.8 660.8M563.8 660.8L563.8 674.8M563.8 674.8L563.8 688.8M563.8 702.9L563.8 716.9M563.8 716.9L563.8 730.9M563.8 730.9L563.8 745.0M563.8 773.0L563.8 787.1M563.8 787.1L563.8 801.1M586.7 590.6L586.7 604.6M586.7 618.7L586.7 632.7M586.7 632.7L586.7 646.7M586.7 646.7L586.7 660.8M586.7 660.8L586.7 674.8M586.7 674.8L586.7 688.8M609.5 590.6L609.5 604.6M609.5 618.7L609.5 632.7M609.5 632.7L609.5 646.7M609.5 646.7L609.5 660.8M609.5 660.8L609.5 674.8M609.5 674.8L609.5 688.8M609.5 745.0L609.5 759.0M632.4 590.6L632.4 604.6M632.4 618.7L632.4 632.7M632.4 632.7L632.4 646.7M632.4 646.7L632.4 660.8M632.4 660.8L632.4 674.8M632.4 674.8L632.4 688.8M632.4 688.8L632.4 702.9M632.4 702.9L632.4 716.9M632.4 730.9L632.4 745.0M632.4 745.0L632.4 759.0M632.4 759.0L632.4 773.0M632.4 773.0L632.4 787.1M655.3 590.6L655.3 604.6M655.3 632.7L655.3 646.7M655.3 646.7L655.3 660.8M655.3 660.8L655.3 674.8M655.3 674.8L655.3 688.8M655.3 688.8L655.3 702.9M655.3 702.9L655.3 716.9M655.3 716.9L655.3 730.9M655.3 730.9L655.3 745.0M655.3 745.0L655.3 759.0M655.3 759.0L655.3 773.0M655.3 773.0L655.3 787.1" stroke="#fff" stroke-opacity="0.90" stroke-width="1.30" fill="none"/>
<rect x="83.00" y="590.30" width="595.48" height="211.09" fill="none" stroke="#fff" stroke-width="1.90"/>
<text x="76.00" y="600.12" font-size="9.80" text-anchor="end" fill="#222" font-weight="normal" font-style="italic" textLength="47.00" lengthAdjust="spacingAndGlyphs" stroke="#222" stroke-width="0.25">OsPP2C</text>
<text x="76.00" y="614.15" font-size="9.80" text-anchor="end" fill="#222" font-weight="normal" font-style="italic" textLength="49.30" lengthAdjust="spacingAndGlyphs" stroke="#222" stroke-width="0.25">OsSKIP1</text>
<text x="76.00" y="628.18" font-size="9.80" text-anchor="end" fill="#222" font-weight="normal" font-style="italic" textLength="58.00" lengthAdjust="spacingAndGlyphs" stroke="#222" stroke-width="0.25">OsLEA3-1</text>
<text x="76.00" y="642.22" font-size="9.80" text-anchor="end" fill="#222" font-weight="normal" font-style="italic" textLength="56.20" lengthAdjust="spacingAndGlyphs" stroke="#222" stroke-width="0.25">OsAOX1a</text>
<text x="76.00" y="656.25" font-size="9.80" text-anchor="end" fill="#222" font-weight="normal" font-style="italic" textLength="45.40" lengthAdjust="spacingAndGlyphs" stroke="#222" stroke-width="0.25">OsTPP1</text>
<text x="76.00" y="670.28" font-size="9.80" text-anchor="end" fill="#222" font-weight="normal" font-style="italic" textLength="64.40" lengthAdjust="spacingAndGlyphs" stroke="#222" stroke-width="0.25">OsDREB2B</text>
<text x="76.00" y="684.31" font-size="9.80" text-anchor="end" fill="#222" font-weight="normal" font-style="italic" textLength="70.50" lengthAdjust="spacingAndGlyphs" stroke="#222" stroke-width="0.25">OsDHODH1</text>
<text x="76.00" y="698.35" font-size="9.80" text-anchor="end" fill="#222" font-weight="normal" font-style="italic" textLength="49.00" lengthAdjust="spacingAndGlyphs" stroke="#222" stroke-width="0.25">OsNAC1</text>
<text x="76.00" y="712.38" font-size="9.80" text-anchor="end" fill="#222" font-weight="normal" font-style="italic" textLength="49.00" lengthAdjust="spacingAndGlyphs" stroke="#222" stroke-width="0.25">OsNAC2</text>
<text x="76.00" y="726.41" font-size="9.80" text-anchor="end" fill="#222" font-weight="normal" font-style="italic" textLength="41.30" lengthAdjust="spacingAndGlyphs" stroke="#222" stroke-width="0.25">OsSIK1</text>
<text x="76.00" y="740.45" font-size="9.80" text-anchor="end" fill="#222" font-weight="normal" font-style="italic" textLength="67.80" lengthAdjust="spacingAndGlyphs" stroke="#222" stroke-width="0.25">OsNADPH1</text>
<text x="76.00" y="754.48" font-size="9.80" text-anchor="end" fill="#222" font-weight="normal" font-style="italic" textLength="68.00" lengthAdjust="spacingAndGlyphs" stroke="#222" stroke-width="0.25">OsWRKY72</text>
<text x="76.00" y="768.51" font-size="9.80" text-anchor="end" fill="#222" font-weight="normal" font-style="italic" textLength="51.50" lengthAdjust="spacingAndGlyphs" stroke="#222" stroke-width="0.25">OsGL1-2</text>
<text x="76.00" y="782.55" font-size="9.80" text-anchor="end" fill="#222" font-weight="normal" font-style="italic" textLength="57.20" lengthAdjust="spacingAndGlyphs" stroke="#222" stroke-width="0.25">OsALDH2</text>
<text x="76.00" y="796.58" font-size="9.80" text-anchor="end" fill="#222" font-weight="normal" font-style="italic" textLength="58.20" lengthAdjust="spacingAndGlyphs" stroke="#222" stroke-width="0.25">OsBZIP23</text>
<text x="205.00" y="553.60" font-size="9.80" text-anchor="start" fill="#222" font-weight="normal" font-style="normal" textLength="110.00" lengthAdjust="spacingAndGlyphs">Line: TR15.10 Shoots</text>
<text x="455.10" y="553.60" font-size="9.80" text-anchor="start" fill="#222" font-weight="normal" font-style="normal" textLength="104.40" lengthAdjust="spacingAndGlyphs">Line: TR15.10 Roots</text>
<text x="79.40" y="554.50" font-size="9.60" text-anchor="start" fill="#222" font-weight="normal" font-style="normal" textLength="10.00" lengthAdjust="spacingAndGlyphs">d)</text>
<text x="382.10" y="551.80" font-size="10.80" text-anchor="start" fill="#3a3a3a" font-weight="bold" font-style="normal" textLength="9.80" lengthAdjust="spacingAndGlyphs" style="font-family:&quot;Liberation Serif&quot;,serif">e)</text>
<text x="132.80" y="567.30" font-size="8.50" text-anchor="middle" fill="#222" font-weight="normal" font-style="normal" textLength="20.00" lengthAdjust="spacingAndGlyphs">PEG</text>
<text x="248.10" y="567.60" font-size="8.50" text-anchor="middle" fill="#222" font-weight="normal" font-style="normal" textLength="21.00" lengthAdjust="spacingAndGlyphs">ABA</text>
<text x="318.10" y="567.60" font-size="8.50" text-anchor="middle" fill="#222" font-weight="normal" font-style="normal" textLength="23.50" lengthAdjust="spacingAndGlyphs">NaCl</text>
<text x="432.00" y="567.00" font-size="8.50" text-anchor="middle" fill="#222" font-weight="normal" font-style="normal" textLength="20.00" lengthAdjust="spacingAndGlyphs">PEG</text>
<text x="546.20" y="567.30" font-size="8.50" text-anchor="middle" fill="#222" font-weight="normal" font-style="normal" textLength="21.00" lengthAdjust="spacingAndGlyphs">ABA</text>
<text x="615.50" y="567.30" font-size="8.50" text-anchor="middle" fill="#222" font-weight="normal" font-style="normal" textLength="23.50" lengthAdjust="spacingAndGlyphs">NaCl</text>
<line x1="85.20" y1="573.60" x2="192.70" y2="573.60" stroke="#444" stroke-width="0.8"/>
<polygon points="83.20,573.60 88.80,571.70 88.80,575.50" fill="#222"/>
<polygon points="194.70,573.60 189.10,571.70 189.10,575.50" fill="#222"/>
<line x1="198.70" y1="573.60" x2="281.40" y2="573.60" stroke="#444" stroke-width="0.8"/>
<polygon points="196.70,573.60 202.30,571.70 202.30,575.50" fill="#222"/>
<polygon points="283.40,573.60 277.80,571.70 277.80,575.50" fill="#222"/>
<line x1="288.60" y1="573.60" x2="365.90" y2="573.60" stroke="#444" stroke-width="0.8"/>
<polygon points="286.60,573.60 292.20,571.70 292.20,575.50" fill="#222"/>
<polygon points="367.90,573.60 362.30,571.70 362.30,575.50" fill="#222"/>
<line x1="384.20" y1="573.60" x2="491.00" y2="573.60" stroke="#444" stroke-width="0.8"/>
<polygon points="382.20,573.60 387.80,571.70 387.80,575.50" fill="#222"/>
<polygon points="493.00,573.60 487.40,571.70 487.40,575.50" fill="#222"/>
<line x1="498.20" y1="573.60" x2="578.70" y2="573.60" stroke="#444" stroke-width="0.8"/>
<polygon points="496.20,573.60 501.80,571.70 501.80,575.50" fill="#222"/>
<polygon points="580.70,573.60 575.10,571.70 575.10,575.50" fill="#222"/>
<line x1="586.30" y1="573.60" x2="663.10" y2="573.60" stroke="#444" stroke-width="0.8"/>
<polygon points="584.30,573.60 589.90,571.70 589.90,575.50" fill="#222"/>
<polygon points="665.10,573.60 659.50,571.70 659.50,575.50" fill="#222"/>
<text x="95.50" y="583.80" font-size="6.40" text-anchor="middle" fill="#666" font-weight="normal" font-style="normal" textLength="11.80" lengthAdjust="spacingAndGlyphs">Oh</text>
<text x="118.20" y="583.80" font-size="6.40" text-anchor="middle" fill="#666" font-weight="normal" font-style="normal" textLength="12.30" lengthAdjust="spacingAndGlyphs">5m</text>
<text x="136.60" y="583.80" font-size="6.40" text-anchor="middle" fill="#666" font-weight="normal" font-style="normal" textLength="9.80" lengthAdjust="spacingAndGlyphs">3h</text>
<text x="162.00" y="583.80" font-size="6.40" text-anchor="middle" fill="#666" font-weight="normal" font-style="normal" textLength="10.00" lengthAdjust="spacingAndGlyphs">6h</text>
<text x="181.60" y="583.80" font-size="6.40" text-anchor="middle" fill="#666" font-weight="normal" font-style="normal" textLength="15.20" lengthAdjust="spacingAndGlyphs">24h</text>
<text x="202.50" y="583.80" font-size="6.40" text-anchor="middle" fill="#666" font-weight="normal" font-style="normal" textLength="12.30" lengthAdjust="spacingAndGlyphs">5m</text>
<text x="223.40" y="583.80" font-size="6.40" text-anchor="middle" fill="#666" font-weight="normal" font-style="normal" textLength="9.80" lengthAdjust="spacingAndGlyphs">3h</text>
<text x="247.40" y="583.80" font-size="6.40" text-anchor="middle" fill="#666" font-weight="normal" font-style="normal" textLength="10.00" lengthAdjust="spacingAndGlyphs">6h</text>
<text x="267.70" y="583.80" font-size="6.40" text-anchor="middle" fill="#666" font-weight="normal" font-style="normal" textLength="15.20" lengthAdjust="spacingAndGlyphs">24h</text>
<text x="291.40" y="583.80" font-size="6.40" text-anchor="middle" fill="#666" font-weight="normal" font-style="normal" textLength="12.30" lengthAdjust="spacingAndGlyphs">5m</text>
<text x="311.00" y="583.80" font-size="6.40" text-anchor="middle" fill="#666" font-weight="normal" font-style="normal" textLength="9.80" lengthAdjust="spacingAndGlyphs">3h</text>
<text x="334.80" y="583.80" font-size="6.40" text-anchor="middle" fill="#666" font-weight="normal" font-style="normal" textLength="10.00" lengthAdjust="spacingAndGlyphs">6h</text>
<text x="354.00" y="583.80" font-size="6.40" text-anchor="middle" fill="#666" font-weight="normal" font-style="normal" textLength="15.20" lengthAdjust="spacingAndGlyphs">24h</text>
<text x="394.00" y="583.80" font-size="6.40" text-anchor="middle" fill="#666" font-weight="normal" font-style="normal" textLength="11.80" lengthAdjust="spacingAndGlyphs">Oh</text>
<text x="416.60" y="583.80" font-size="6.40" text-anchor="middle" fill="#666" font-weight="normal" font-style="normal" textLength="12.30" lengthAdjust="spacingAndGlyphs">5m</text>
<text x="435.20" y="583.80" font-size="6.40" text-anchor="middle" fill="#666" font-weight="normal" font-style="normal" textLength="9.80" lengthAdjust="spacingAndGlyphs">3h</text>
<text x="460.90" y="583.80" font-size="6.40" text-anchor="middle" fill="#666" font-weight="normal" font-style="normal" textLength="10.00" lengthAdjust="spacingAndGlyphs">6h</text>
<text x="479.80" y="583.80" font-size="6.40" text-anchor="middle" fill="#666" font-weight="normal" font-style="normal" textLength="15.20" lengthAdjust="spacingAndGlyphs">24h</text>
<text x="501.80" y="583.80" font-size="6.40" text-anchor="middle" fill="#666" font-weight="normal" font-style="normal" textLength="12.30" lengthAdjust="spacingAndGlyphs">5m</text>
<text x="521.20" y="583.80" font-size="6.40" text-anchor="middle" fill="#666" font-weight="normal" font-style="normal" textLength="9.80" lengthAdjust="spacingAndGlyphs">3h</text>
<text x="545.00" y="583.80" font-size="6.40" text-anchor="middle" fill="#666" font-weight="normal" font-style="normal" textLength="10.00" lengthAdjust="spacingAndGlyphs">6h</text>
<text x="564.00" y="583.80" font-size="6.40" text-anchor="middle" fill="#666" font-weight="normal" font-style="normal" textLength="15.20" lengthAdjust="spacingAndGlyphs">24h</text>
<text x="588.60" y="583.80" font-size="6.40" text-anchor="middle" fill="#666" font-weight="normal" font-style="normal" textLength="12.30" lengthAdjust="spacingAndGlyphs">5m</text>
<text x="608.50" y="583.80" font-size="6.40" text-anchor="middle" fill="#666" font-weight="normal" font-style="normal" textLength="9.80" lengthAdjust="spacingAndGlyphs">3h</text>
<text x="631.90" y="583.80" font-size="6.40" text-anchor="middle" fill="#666" font-weight="normal" font-style="normal" textLength="10.00" lengthAdjust="spacingAndGlyphs">6h</text>
<text x="651.40" y="583.80" font-size="6.40" text-anchor="middle" fill="#666" font-weight="normal" font-style="normal" textLength="15.20" lengthAdjust="spacingAndGlyphs">24h</text>
<defs><linearGradient id="g2" x1="0" x2="1" y1="0" y2="0"><stop offset="0" stop-color="#24f024"/><stop offset="0.5" stop-color="#129e1e"/><stop offset="1" stop-color="#083034"/></linearGradient></defs>
<rect x="303.50" y="819.40" width="216.00" height="5.80" fill="url(#g2)" stroke="#0a3a1a" stroke-width="1"/>
<text x="411.70" y="817.60" font-size="6.20" text-anchor="middle" fill="#222" font-weight="bold" font-style="normal" textLength="22.50" lengthAdjust="spacingAndGlyphs">global</text>
<text x="306.60" y="831.60" font-size="6.20" text-anchor="middle" fill="#222" font-weight="bold" font-style="normal" textLength="6.80" lengthAdjust="spacingAndGlyphs">-3</text>
<text x="412.80" y="831.60" font-size="6.20" text-anchor="middle" fill="#222" font-weight="bold" font-style="normal" textLength="4.50" lengthAdjust="spacingAndGlyphs">0</text>
<text x="515.30" y="831.60" font-size="6.20" text-anchor="middle" fill="#222" font-weight="bold" font-style="normal" textLength="4.20" lengthAdjust="spacingAndGlyphs">3</text>
</svg>
</body>
</html>
